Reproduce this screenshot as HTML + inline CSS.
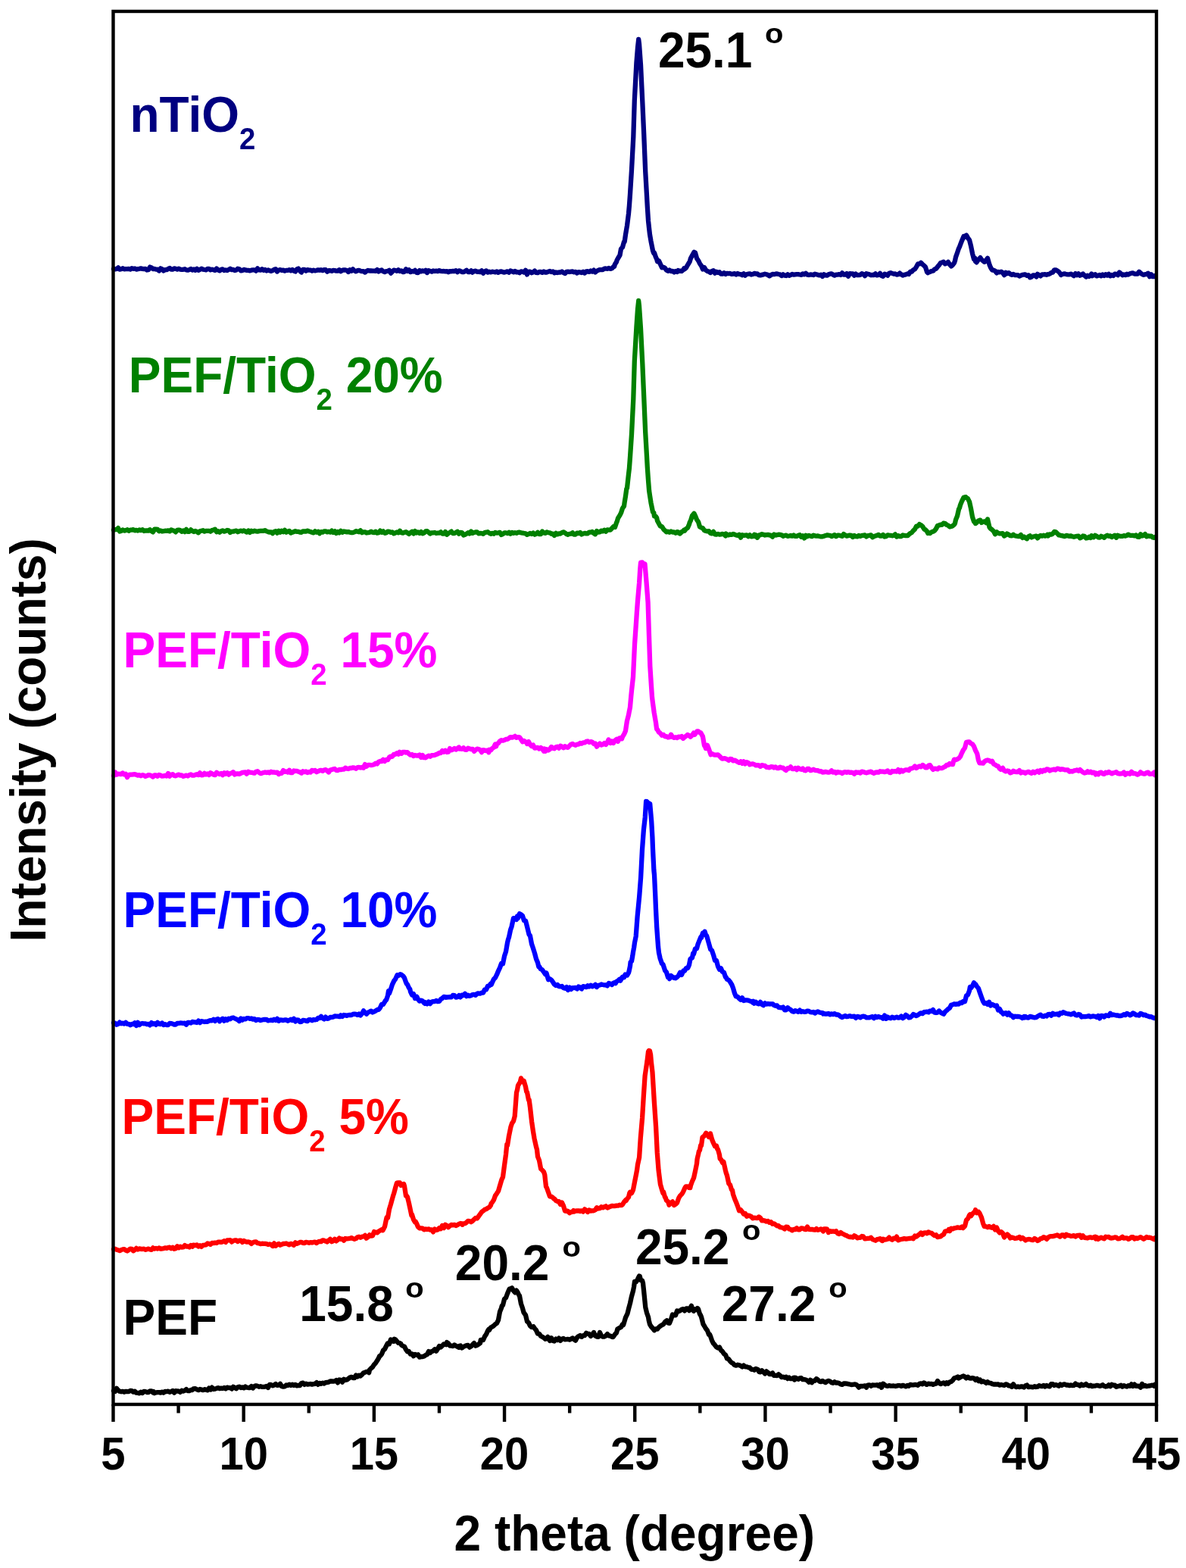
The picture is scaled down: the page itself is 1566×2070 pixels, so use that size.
<!DOCTYPE html>
<html><head><meta charset="utf-8"><title>XRD patterns</title>
<style>html,body{margin:0;padding:0;background:#fff;width:1566px;height:2070px;overflow:hidden}svg{display:block}</style>
</head><body>
<svg width="1566" height="2070" viewBox="0 0 1566 2070" font-family="'Liberation Sans', Arial, sans-serif" font-weight="bold">
<rect width="1566" height="2070" fill="#fff"/>
<polyline fill="none" stroke="#000080" stroke-width="6.3" stroke-linejoin="round" stroke-linecap="round" points="150.0,354.9 152.0,355.4 154.0,355.0 156.0,353.4 158.0,355.6 160.0,355.2 162.0,354.2 164.0,355.4 166.0,355.2 168.0,355.1 170.0,354.9 172.0,355.5 174.0,354.2 176.0,354.8 178.0,354.5 180.0,355.6 182.0,355.1 184.0,354.8 186.0,354.3 188.0,354.9 190.0,355.2 192.0,354.9 194.0,356.5 196.0,356.2 198.0,352.5 200.0,353.4 202.0,355.1 204.0,354.9 206.0,355.6 208.0,355.6 210.0,357.5 212.0,354.3 214.0,355.1 216.0,357.5 218.0,356.1 220.0,356.2 222.0,355.0 224.0,353.9 226.0,355.7 228.0,355.7 230.0,354.4 232.0,354.9 234.0,355.6 236.0,354.7 238.0,355.6 240.0,355.8 242.0,355.8 244.0,355.2 246.0,356.4 248.0,356.7 250.0,356.1 252.0,355.0 254.0,356.6 256.0,355.4 258.0,356.8 260.0,354.8 262.0,356.8 264.0,355.9 266.0,354.7 268.0,355.6 270.0,356.0 272.0,356.3 274.0,355.0 276.0,354.9 278.0,356.3 280.0,355.6 282.0,356.3 284.0,356.9 286.0,354.5 288.0,356.4 290.0,357.4 292.0,355.9 294.0,355.4 296.0,357.0 298.0,356.5 300.0,357.1 302.0,355.9 304.0,354.8 306.0,356.2 308.0,355.9 310.0,357.1 312.0,356.5 314.0,354.7 316.0,355.2 318.0,357.3 320.0,357.1 322.0,355.8 324.0,356.4 326.0,356.9 328.0,356.9 330.0,357.4 332.0,356.7 334.0,356.4 336.0,356.3 338.0,357.6 340.0,354.3 342.0,356.4 344.0,356.6 346.0,355.2 348.0,356.9 350.0,356.0 352.0,357.5 354.0,356.5 356.0,357.3 358.0,357.9 360.0,357.1 362.0,355.8 364.0,355.2 366.0,358.5 368.0,356.7 370.0,356.1 372.0,356.9 374.0,356.6 376.0,357.7 378.0,356.9 380.0,356.9 382.0,356.2 384.0,357.4 386.0,355.9 388.0,357.6 390.0,358.5 392.0,355.4 394.0,354.5 396.0,357.6 398.0,359.5 400.0,356.0 402.0,355.8 404.0,357.6 406.0,356.2 408.0,356.6 410.0,356.7 412.0,357.6 414.0,356.7 416.0,357.4 418.0,357.0 420.0,356.3 422.0,356.8 424.0,356.2 426.0,357.2 428.0,356.1 430.0,356.1 432.0,358.7 434.0,357.2 436.0,357.2 438.0,357.8 440.0,356.9 442.0,357.1 444.0,357.7 446.0,357.6 448.0,356.2 450.0,358.2 452.0,356.8 454.0,356.3 456.0,356.5 458.0,357.0 460.0,359.0 462.0,356.2 464.0,357.6 466.0,355.3 468.0,357.5 470.0,358.4 472.0,357.2 474.0,356.9 476.0,357.7 478.0,358.2 480.0,358.2 482.0,359.5 484.0,357.8 486.0,357.0 488.0,357.5 490.0,357.5 492.0,357.7 494.0,357.6 496.0,357.8 498.0,356.0 500.0,358.5 502.0,357.1 504.0,356.5 506.0,358.3 508.0,359.0 510.0,358.2 512.0,357.9 514.0,356.8 516.0,360.6 518.0,358.7 520.0,356.6 522.0,357.0 524.0,357.9 526.0,356.3 528.0,358.0 530.0,357.4 532.0,359.1 534.0,358.8 536.0,355.2 538.0,358.0 540.0,356.3 542.0,359.1 544.0,358.1 546.0,358.5 548.0,356.9 550.0,359.8 552.0,360.0 554.0,357.0 556.0,358.4 558.0,357.4 560.0,358.1 562.0,356.8 564.0,360.0 566.0,357.2 568.0,357.9 570.0,358.7 572.0,357.5 574.0,358.0 576.0,357.7 578.0,358.1 580.0,357.1 582.0,357.9 584.0,358.1 586.0,358.0 588.0,358.4 590.0,358.1 592.0,359.2 594.0,358.1 596.0,358.3 598.0,357.8 600.0,358.0 602.0,357.3 604.0,359.1 606.0,357.4 608.0,357.9 610.0,359.0 612.0,359.0 614.0,358.3 616.0,356.7 618.0,359.1 620.0,359.0 622.0,357.3 624.0,359.6 626.0,358.1 628.0,357.7 630.0,358.9 632.0,358.7 634.0,359.1 636.0,357.3 638.0,360.7 640.0,358.3 642.0,357.4 644.0,359.6 646.0,358.7 648.0,359.4 650.0,358.7 652.0,359.0 654.0,359.3 656.0,358.4 658.0,359.8 660.0,358.7 662.0,358.3 664.0,359.2 666.0,359.6 668.0,359.0 670.0,358.3 672.0,359.8 674.0,357.5 676.0,358.2 678.0,359.3 680.0,357.9 682.0,359.3 684.0,359.2 686.0,360.2 688.0,358.4 690.0,358.7 692.0,359.6 694.0,356.8 696.0,362.4 698.0,358.6 700.0,358.6 702.0,360.2 704.0,359.3 706.0,357.5 708.0,359.9 710.0,360.2 712.0,358.8 714.0,359.0 716.0,359.8 718.0,358.4 720.0,359.7 722.0,359.5 724.0,358.6 726.0,357.9 728.0,359.0 730.0,358.4 732.0,360.3 734.0,359.4 736.0,360.0 738.0,359.4 740.0,359.5 742.0,358.4 744.0,359.9 746.0,361.0 748.0,358.9 750.0,358.6 752.0,359.0 754.0,358.7 756.0,358.5 758.0,359.3 760.0,358.8 762.0,360.6 764.0,359.1 766.0,359.4 768.0,360.0 770.0,358.8 772.0,360.5 774.0,358.4 776.0,358.2 776.6,358.6 778.0,358.9 780.0,357.4 782.0,358.6 784.0,356.7 786.0,359.5 788.0,357.7 790.0,356.7 792.0,356.1 794.0,356.2 795.8,356.0 798.0,354.7 800.0,354.5 802.0,354.8 804.0,354.0 806.0,354.9 808.0,354.3 810.0,352.1 811.1,351.9 812.0,348.7 814.0,345.7 814.6,343.5 816.0,341.0 818.5,336.9 820.0,328.5 822.0,326.3 824.0,319.2 824.7,319.0 826.0,309.7 827.3,302.0 828.0,298.0 830.0,281.9 830.9,271.9 832.0,256.4 834.0,224.4 836.3,180.9 837.8,132.7 840.4,83.0 842.0,62.9 843.2,52.0 844.0,58.1 846.0,85.7 848.3,134.4 850.2,177.0 852.2,226.4 854.0,258.1 854.8,272.9 856.0,291.3 857.1,301.7 858.0,309.5 859.5,318.3 862.0,330.9 863.3,334.4 864.0,333.9 866.0,339.7 867.2,342.1 868.0,345.2 870.0,344.4 871.8,348.4 874.0,353.3 876.5,352.9 878.0,353.9 880.0,356.6 882.0,357.8 883.9,356.5 886.0,358.0 888.0,357.8 890.0,359.4 892.0,358.0 894.0,359.1 895.4,357.2 896.0,357.9 898.0,357.6 900.0,358.0 902.0,356.4 903.1,354.4 904.0,355.3 906.0,353.4 908.0,349.8 910.0,346.5 910.7,345.5 912.0,340.9 914.0,337.2 916.5,332.8 918.0,333.5 920.0,340.9 922.2,344.2 924.0,348.0 926.0,350.8 928.0,355.4 930.0,353.1 932.0,356.6 934.0,358.1 936.0,358.5 938.0,360.0 939.5,358.1 942.0,357.2 944.0,360.6 946.0,358.8 948.0,359.9 950.0,359.3 952.0,361.7 954.0,361.6 956.0,360.2 958.0,361.9 958.6,361.1 960.0,360.9 962.0,361.2 964.0,361.0 966.0,361.9 968.0,361.7 970.0,361.1 972.0,362.5 974.0,361.0 976.0,361.9 978.0,362.1 980.0,363.2 982.0,361.3 984.0,363.6 986.0,362.0 988.0,361.7 990.0,361.3 992.0,362.5 994.0,362.0 996.0,360.9 996.9,360.9 998.0,361.5 1000.0,361.3 1002.0,363.1 1004.0,363.4 1006.0,362.9 1008.0,362.4 1010.0,361.7 1012.0,362.2 1014.0,363.0 1016.0,364.3 1018.0,363.0 1020.0,361.9 1022.0,362.2 1024.0,361.7 1026.0,361.4 1028.0,362.0 1030.0,362.4 1032.0,364.0 1034.0,362.3 1036.0,363.6 1038.0,364.0 1040.0,362.3 1042.0,363.9 1044.0,363.0 1046.0,361.9 1048.0,362.6 1050.0,362.3 1052.0,362.1 1054.0,362.1 1056.0,362.5 1058.0,362.8 1060.0,361.4 1062.0,362.3 1064.0,360.8 1066.0,362.6 1068.0,363.0 1070.0,362.5 1072.0,362.7 1074.0,363.0 1076.0,361.7 1078.0,362.2 1080.0,362.9 1082.0,363.4 1084.0,362.8 1086.0,365.0 1088.0,362.3 1090.0,363.4 1092.0,363.7 1094.0,362.3 1096.0,361.6 1098.0,361.3 1100.0,362.6 1102.0,363.6 1104.0,362.7 1106.0,362.6 1108.0,362.1 1110.0,363.0 1112.0,360.3 1114.0,362.7 1116.0,362.5 1118.0,361.1 1120.0,364.7 1122.0,361.1 1124.0,361.4 1126.0,361.3 1128.0,363.6 1130.0,361.6 1132.0,363.2 1134.0,363.1 1136.0,362.8 1138.0,361.2 1140.0,361.9 1142.0,364.2 1144.0,361.2 1146.0,361.7 1148.0,362.3 1150.0,363.3 1152.0,362.8 1154.0,363.2 1156.0,361.4 1158.0,363.4 1160.0,363.0 1162.0,360.9 1164.0,364.0 1166.0,364.7 1168.0,361.6 1170.0,362.4 1172.0,363.7 1174.0,360.8 1176.0,360.2 1178.0,360.9 1180.0,361.6 1182.0,361.5 1184.0,362.6 1186.0,362.2 1188.0,360.6 1190.0,362.3 1192.0,363.5 1194.0,362.8 1196.0,362.4 1198.5,361.3 1200.0,361.9 1202.0,358.6 1204.0,358.7 1205.8,356.3 1208.0,355.4 1210.0,352.3 1212.0,348.4 1214.0,348.3 1215.0,348.0 1216.0,346.9 1218.0,348.8 1220.4,350.8 1222.0,352.6 1224.0,359.0 1225.2,360.2 1226.0,359.7 1228.0,358.8 1230.0,358.0 1232.5,357.4 1234.0,355.4 1236.0,354.7 1238.0,352.2 1239.8,350.2 1242.0,347.0 1244.0,346.5 1245.8,345.8 1248.0,348.4 1250.0,347.5 1251.9,345.9 1254.0,349.2 1256.0,351.4 1257.5,350.3 1260.0,347.1 1261.0,344.0 1262.0,339.4 1264.0,333.8 1266.0,327.8 1267.0,325.8 1268.0,323.2 1270.0,317.9 1272.5,312.0 1274.0,312.9 1275.3,310.9 1276.0,310.5 1278.0,314.1 1280.0,316.8 1282.0,324.6 1284.0,334.7 1286.0,342.1 1287.0,340.5 1288.0,345.1 1289.5,346.3 1292.0,342.6 1294.4,340.2 1296.0,342.7 1298.0,344.4 1300.0,345.8 1302.0,343.7 1304.0,340.8 1306.5,349.5 1308.0,353.1 1310.0,356.5 1312.0,356.6 1314.0,357.8 1316.0,360.3 1317.4,358.9 1320.0,359.3 1322.0,358.7 1324.0,360.0 1326.0,363.1 1328.0,359.7 1329.6,361.3 1332.0,360.1 1334.0,361.9 1336.0,362.8 1338.0,361.9 1340.0,363.0 1342.0,363.2 1344.0,363.1 1346.0,364.5 1348.0,363.7 1350.0,362.8 1352.0,362.5 1354.0,362.5 1356.0,363.9 1358.0,363.2 1360.0,366.3 1362.0,365.5 1364.0,363.4 1366.0,363.4 1368.4,365.4 1370.0,361.8 1372.0,363.1 1374.0,364.4 1376.0,362.3 1378.0,362.4 1380.0,362.2 1382.0,362.9 1383.0,362.1 1384.0,362.2 1386.0,361.6 1388.0,360.0 1390.0,359.6 1392.2,356.4 1394.0,356.3 1396.5,357.7 1398.0,358.8 1400.0,361.2 1401.0,363.0 1402.0,362.3 1404.0,361.7 1406.0,361.4 1408.0,362.1 1410.0,362.4 1412.0,362.3 1414.0,361.6 1416.0,362.7 1418.0,364.2 1420.0,361.1 1422.0,363.2 1424.0,361.3 1426.0,363.7 1428.0,362.8 1430.0,361.5 1432.0,363.7 1434.0,365.5 1436.0,363.8 1438.0,364.9 1440.0,363.6 1441.2,361.5 1442.0,364.2 1444.0,363.3 1446.0,362.2 1448.0,364.4 1450.0,363.8 1452.0,363.0 1454.0,364.3 1456.0,362.4 1458.0,363.9 1460.0,362.2 1462.0,363.6 1464.0,361.8 1466.0,364.3 1468.0,363.0 1470.0,364.1 1472.0,361.7 1474.0,361.9 1476.0,363.2 1478.0,359.5 1480.0,361.1 1482.0,363.2 1484.0,362.5 1486.0,363.0 1488.0,361.7 1489.7,362.6 1492.0,361.3 1494.0,360.6 1496.0,360.4 1498.0,361.6 1500.0,361.6 1502.0,361.6 1504.0,358.7 1506.0,360.4 1508.0,362.0 1510.0,362.9 1512.0,362.2 1514.0,362.0 1516.0,360.7 1518.0,365.2 1520.0,362.2 1522.0,365.1 1524.0,365.2 1525.0,364.0"/>
<polyline fill="none" stroke="#008000" stroke-width="6.3" stroke-linejoin="round" stroke-linecap="round" points="150.0,699.8 152.0,699.1 154.0,699.2 156.0,697.2 158.0,701.5 160.0,700.9 162.0,699.4 164.0,700.6 166.0,700.1 168.0,699.3 170.0,700.9 172.0,699.6 174.0,699.6 176.0,699.2 178.0,700.4 180.0,699.9 182.0,700.6 184.0,699.5 186.0,700.2 188.0,699.2 190.0,701.0 192.0,700.4 194.0,700.5 196.0,700.6 198.0,699.2 200.0,701.1 202.0,702.4 204.0,698.7 206.0,698.6 208.0,698.9 210.0,701.2 212.0,700.5 214.0,701.5 216.0,701.2 218.0,700.7 220.0,700.8 222.0,700.4 224.0,701.4 226.0,699.4 228.0,700.2 230.0,700.8 232.0,702.4 234.0,699.9 236.0,699.6 238.0,700.1 240.0,701.7 242.0,700.5 244.0,702.1 246.0,698.9 248.0,701.9 250.0,701.8 252.0,699.4 254.0,701.0 256.0,702.1 258.0,701.0 260.0,701.9 262.0,703.3 264.0,701.2 266.0,700.7 268.0,700.2 270.0,701.6 272.0,700.8 274.0,700.8 276.0,700.9 278.0,701.7 280.0,700.0 282.0,699.6 284.0,698.7 286.0,702.3 288.0,701.2 290.0,702.7 292.0,701.2 294.0,700.4 296.0,701.7 298.0,701.1 300.0,700.0 302.0,700.4 304.0,703.0 306.0,701.6 308.0,701.7 310.0,701.0 312.0,700.6 314.0,702.2 316.0,701.3 318.0,700.6 320.0,701.3 322.0,700.5 324.0,701.6 326.0,702.6 328.0,700.6 330.0,702.9 332.0,700.8 334.0,701.7 336.0,700.7 338.0,701.3 340.0,701.6 342.0,701.1 344.0,700.9 346.0,700.9 348.0,700.8 350.0,700.1 352.0,701.4 354.0,702.1 356.0,702.6 358.0,702.3 360.0,704.2 362.0,702.0 364.0,701.3 366.0,703.6 368.0,700.7 370.0,702.7 372.0,700.8 374.0,702.2 376.0,699.9 378.0,702.7 380.0,701.7 382.0,700.9 384.0,703.6 386.0,702.7 388.0,702.0 390.0,701.2 392.0,701.9 394.0,701.8 396.0,702.7 398.0,702.8 400.0,701.3 402.0,701.5 404.0,701.5 406.0,700.7 408.0,701.5 410.0,702.0 412.0,702.8 414.0,703.4 416.0,701.3 418.0,702.7 420.0,701.7 422.0,704.2 424.0,702.1 426.0,702.7 428.0,701.3 430.0,701.4 432.0,702.4 434.0,701.9 436.0,702.6 438.0,700.7 440.0,702.9 442.0,701.4 444.0,704.0 446.0,702.0 448.0,703.4 450.0,700.9 452.0,702.8 454.0,701.5 456.0,701.9 458.0,702.4 460.0,702.1 462.0,702.7 464.0,703.2 466.0,703.1 468.0,702.4 470.0,701.1 472.0,701.7 474.0,702.3 476.0,700.4 478.0,703.3 480.0,702.3 482.0,702.3 484.0,703.5 486.0,703.2 488.0,702.8 490.0,701.6 492.0,702.9 494.0,703.0 496.0,701.7 498.0,703.7 500.0,703.2 502.0,700.7 504.0,702.8 506.0,701.4 508.0,703.8 510.0,703.5 512.0,701.6 514.0,701.9 516.0,702.9 518.0,702.5 520.0,704.3 522.0,703.5 524.0,702.5 526.0,703.4 528.0,700.8 530.0,703.2 532.0,703.7 534.0,702.7 536.0,702.2 538.0,703.5 540.0,704.9 542.0,703.1 544.0,701.8 546.0,704.4 548.0,701.1 550.0,703.5 552.0,702.4 554.0,704.0 556.0,702.2 558.0,704.4 560.0,703.4 562.0,701.4 564.0,701.1 566.0,702.8 568.0,704.5 570.0,703.3 572.0,703.3 574.0,703.0 576.0,704.0 578.0,703.6 580.0,703.6 582.0,702.3 584.0,704.5 586.0,704.7 588.0,702.1 590.0,705.7 592.0,704.1 594.0,702.9 596.0,701.6 598.0,704.1 600.0,704.1 602.0,702.9 604.0,701.8 606.0,704.7 608.0,703.0 610.0,703.1 612.0,706.5 614.0,705.8 616.0,704.6 618.0,703.3 620.0,704.4 622.0,701.5 624.0,703.9 626.0,703.0 628.0,702.5 630.0,702.3 632.0,704.4 634.0,704.0 636.0,704.1 638.0,704.8 640.0,703.1 642.0,702.7 644.0,702.2 646.0,703.7 648.0,704.8 650.0,703.9 652.0,704.7 654.0,702.9 656.0,703.6 658.0,703.3 660.0,702.9 662.0,706.0 664.0,705.0 666.0,703.4 668.0,703.4 670.0,704.1 672.0,702.8 674.0,704.7 676.0,702.9 678.0,703.9 680.0,703.2 682.0,703.8 684.0,702.9 686.0,702.7 688.0,703.3 690.0,703.6 692.0,704.0 694.0,704.4 696.0,705.8 698.0,705.1 700.0,704.0 702.0,705.0 704.0,703.6 706.0,705.7 708.0,704.8 710.0,702.9 712.0,705.1 714.0,705.1 716.0,701.6 718.0,703.5 720.0,703.8 722.0,702.4 724.0,703.2 726.0,703.3 728.0,704.8 730.0,704.6 732.0,706.9 734.0,703.9 736.0,705.4 738.0,704.3 740.0,704.5 742.0,703.1 744.0,702.3 746.0,703.4 748.0,705.0 750.0,705.8 752.0,704.8 754.0,704.7 756.0,703.3 758.0,705.7 760.0,705.5 762.0,703.6 764.0,704.1 766.0,703.1 768.0,705.5 770.0,704.5 772.0,703.9 774.0,704.4 776.0,704.4 776.6,703.6 778.0,702.7 780.0,702.6 782.0,701.9 784.0,703.9 786.0,705.3 788.0,701.0 790.0,702.5 792.0,702.4 794.0,700.6 795.8,701.4 798.0,699.7 800.0,701.6 802.0,699.4 804.0,699.6 806.0,699.6 808.0,697.6 810.0,695.2 811.1,695.8 812.0,696.0 814.0,689.9 814.6,688.8 816.0,684.2 818.5,680.2 820.0,677.2 822.0,671.0 824.0,668.1 824.7,662.9 826.0,655.1 827.3,645.4 828.0,644.3 830.0,625.9 830.9,618.4 832.0,603.5 834.0,573.3 836.3,526.6 837.8,476.9 840.4,431.9 842.0,408.4 843.2,397.0 844.0,404.2 846.0,433.8 848.3,479.7 850.2,523.7 852.2,570.9 854.0,602.1 854.8,616.9 856.0,634.0 857.1,647.8 858.0,653.9 859.5,663.6 862.0,675.9 863.3,677.0 864.0,681.4 866.0,681.9 867.2,683.8 868.0,687.6 870.0,691.3 871.8,694.5 874.0,695.2 876.5,699.2 878.0,700.3 880.0,702.4 882.0,701.7 883.9,702.7 886.0,701.5 888.0,702.5 890.0,702.4 892.0,703.7 894.0,702.1 895.4,702.3 896.0,703.7 898.0,704.5 900.0,702.3 902.0,701.1 903.1,699.8 904.0,700.7 906.0,698.1 908.0,696.8 910.0,692.2 910.7,689.6 912.0,687.1 914.0,680.8 916.5,677.8 918.0,681.0 920.0,686.0 922.2,689.3 924.0,695.5 926.0,696.6 928.0,697.3 930.0,700.2 932.0,701.0 934.0,701.4 936.0,701.1 938.0,703.8 939.5,704.4 942.0,701.9 944.0,705.3 946.0,705.7 948.0,704.8 950.0,705.6 952.0,705.3 954.0,704.9 956.0,705.5 958.0,707.3 958.6,704.5 960.0,706.3 962.0,706.3 964.0,705.5 966.0,705.9 968.0,705.0 970.0,705.6 972.0,706.5 974.0,706.9 976.0,705.7 978.0,709.7 980.0,706.2 982.0,706.9 984.0,706.6 986.0,706.5 988.0,708.2 990.0,706.4 992.0,708.3 994.0,708.1 996.0,705.9 996.9,708.0 998.0,706.4 1000.0,709.8 1002.0,706.6 1004.0,706.1 1006.0,705.1 1008.0,705.8 1010.0,706.5 1012.0,706.1 1014.0,705.9 1016.0,706.4 1018.0,706.9 1020.0,708.6 1022.0,705.5 1024.0,706.6 1026.0,706.2 1028.0,705.7 1030.0,705.9 1032.0,706.3 1034.0,707.9 1036.0,707.0 1038.0,706.7 1040.0,707.9 1042.0,707.5 1044.0,707.0 1046.0,707.7 1048.0,706.5 1050.0,707.9 1052.0,707.8 1054.0,706.9 1056.0,706.1 1058.0,708.8 1060.0,707.4 1062.0,710.4 1064.0,706.7 1066.0,708.2 1068.0,706.9 1070.0,707.6 1072.0,708.2 1074.0,706.6 1076.0,707.3 1078.0,707.6 1080.0,707.5 1082.0,708.0 1084.0,708.4 1086.0,708.3 1088.0,707.7 1090.0,707.1 1092.0,706.3 1094.0,706.7 1096.0,706.9 1098.0,708.1 1100.0,707.1 1102.0,706.2 1104.0,708.1 1106.0,706.7 1108.0,706.7 1110.0,707.2 1112.0,707.9 1114.0,705.1 1116.0,706.4 1118.0,707.7 1120.0,707.1 1122.0,706.6 1124.0,706.9 1126.0,708.9 1128.0,707.0 1130.0,708.2 1132.0,708.3 1134.0,707.0 1136.0,707.9 1138.0,707.0 1140.0,706.9 1142.0,706.4 1144.0,708.4 1146.0,707.1 1148.0,706.9 1150.0,706.4 1152.0,709.3 1154.0,708.2 1156.0,707.4 1158.0,706.8 1160.0,705.9 1162.0,707.7 1164.0,707.7 1166.0,706.0 1168.0,708.5 1170.0,708.1 1172.0,706.4 1174.0,706.7 1176.0,706.8 1178.0,707.3 1180.0,707.0 1182.0,705.4 1184.0,708.5 1186.0,707.2 1188.0,708.1 1190.0,708.0 1192.0,706.5 1194.0,706.9 1196.0,707.2 1198.5,707.1 1200.0,705.7 1202.0,704.0 1204.0,702.9 1205.8,700.6 1208.0,698.6 1210.0,694.6 1212.0,694.7 1214.0,692.1 1215.0,693.0 1216.0,693.1 1218.0,694.8 1220.4,698.6 1222.0,699.4 1224.0,701.5 1225.2,704.0 1226.0,703.3 1228.0,704.0 1230.0,702.4 1232.5,701.5 1234.0,700.6 1236.0,698.0 1238.0,694.0 1239.8,693.5 1242.0,692.6 1244.0,692.8 1245.8,690.7 1248.0,691.0 1250.0,692.9 1251.9,693.6 1254.0,695.5 1256.0,695.0 1257.5,694.5 1260.0,692.6 1261.0,690.7 1262.0,686.1 1264.0,681.2 1266.0,672.2 1267.0,670.5 1268.0,666.6 1270.0,661.7 1272.5,656.8 1274.0,656.4 1275.3,656.2 1276.0,657.1 1278.0,658.3 1280.0,662.3 1282.0,671.4 1284.0,682.5 1286.0,688.6 1287.0,688.5 1288.0,691.1 1289.5,690.0 1292.0,687.4 1294.4,686.6 1296.0,689.9 1298.0,688.8 1300.0,688.4 1302.0,690.1 1304.0,685.4 1306.5,696.1 1308.0,697.9 1310.0,699.3 1312.0,701.4 1314.0,705.2 1316.0,702.2 1317.4,703.6 1320.0,704.4 1322.0,704.4 1324.0,704.2 1326.0,707.5 1328.0,706.3 1329.6,704.5 1332.0,705.8 1334.0,707.2 1336.0,707.3 1338.0,705.7 1340.0,707.2 1342.0,707.7 1344.0,708.0 1346.0,708.2 1348.0,706.1 1350.0,709.9 1352.0,708.4 1354.0,710.1 1356.0,711.3 1358.0,708.3 1360.0,707.3 1362.0,709.5 1364.0,708.5 1366.0,708.2 1368.4,707.7 1370.0,710.4 1372.0,708.1 1374.0,707.0 1376.0,707.7 1378.0,706.7 1380.0,707.7 1382.0,706.8 1383.0,705.9 1384.0,707.4 1386.0,705.3 1388.0,705.7 1390.0,704.7 1392.2,701.8 1394.0,702.2 1396.5,704.7 1398.0,706.4 1400.0,706.7 1401.0,707.1 1402.0,707.1 1404.0,707.6 1406.0,708.1 1408.0,706.9 1410.0,707.3 1412.0,707.9 1414.0,707.4 1416.0,708.3 1418.0,708.8 1420.0,708.3 1422.0,707.8 1424.0,707.7 1426.0,710.3 1428.0,709.4 1430.0,707.5 1432.0,707.8 1434.0,710.5 1436.0,710.2 1438.0,708.8 1440.0,709.9 1441.2,707.2 1442.0,708.7 1444.0,709.4 1446.0,706.8 1448.0,707.8 1450.0,709.3 1452.0,709.6 1454.0,707.8 1456.0,708.6 1458.0,709.8 1460.0,707.7 1462.0,706.7 1464.0,707.9 1466.0,707.4 1468.0,709.0 1470.0,707.8 1472.0,706.7 1474.0,709.8 1476.0,706.8 1478.0,707.7 1480.0,707.9 1482.0,707.9 1484.0,707.2 1486.0,707.6 1488.0,706.9 1489.7,705.6 1492.0,706.8 1494.0,706.8 1496.0,706.9 1498.0,707.3 1500.0,706.5 1502.0,708.6 1504.0,708.9 1506.0,705.2 1508.0,707.5 1510.0,706.9 1512.0,705.1 1514.0,708.3 1516.0,707.4 1518.0,707.8 1520.0,707.6 1522.0,709.5 1524.0,709.9 1525.0,709.0"/>
<polyline fill="none" stroke="#FF00FF" stroke-width="6.3" stroke-linejoin="round" stroke-linecap="round" points="150.0,1024.0 152.0,1019.5 154.0,1022.6 156.0,1021.7 158.0,1021.9 160.0,1022.2 162.0,1020.5 164.0,1022.4 166.0,1021.8 168.0,1026.1 170.0,1023.1 172.0,1022.6 174.0,1022.7 176.0,1022.4 178.0,1022.1 180.0,1022.8 182.0,1023.7 184.0,1023.1 186.0,1024.3 188.0,1023.2 190.0,1023.5 192.0,1025.0 194.0,1024.1 196.0,1023.1 198.0,1023.4 200.0,1024.2 202.0,1025.6 204.0,1023.4 206.0,1023.5 208.0,1024.7 210.0,1022.9 212.0,1023.5 214.0,1024.7 216.0,1024.4 218.0,1023.9 220.0,1024.5 222.0,1021.0 224.0,1024.8 226.0,1022.8 228.0,1022.1 230.0,1024.0 232.0,1024.4 234.0,1023.2 236.0,1022.6 238.0,1023.6 240.0,1023.5 242.0,1024.9 244.0,1024.2 246.0,1023.6 248.0,1024.5 250.0,1023.1 252.0,1022.3 254.0,1023.7 256.0,1023.7 258.0,1022.8 260.0,1022.2 262.0,1023.1 264.0,1020.3 266.0,1023.4 268.0,1023.1 270.0,1020.9 272.0,1022.5 274.0,1021.4 276.0,1023.0 278.0,1020.2 280.0,1021.2 282.0,1022.7 284.0,1023.1 286.0,1019.7 288.0,1021.2 290.0,1022.0 292.0,1021.0 294.0,1023.1 296.0,1020.2 298.0,1021.7 300.0,1020.2 302.0,1022.6 304.0,1021.0 306.0,1020.6 308.0,1019.2 310.0,1022.5 312.0,1021.5 314.0,1021.4 316.0,1021.8 318.0,1020.9 320.0,1019.8 322.0,1019.6 324.0,1019.5 325.6,1021.7 328.0,1018.8 330.0,1019.6 332.0,1019.8 334.0,1020.3 336.0,1020.6 338.0,1018.7 340.0,1018.2 342.0,1019.9 344.0,1021.1 346.0,1020.6 348.0,1020.0 350.0,1019.4 352.0,1020.0 354.0,1019.4 356.0,1020.4 358.0,1018.8 360.0,1019.7 362.0,1019.4 364.0,1020.0 366.0,1019.6 368.0,1022.0 370.0,1020.8 372.0,1020.8 374.0,1017.1 376.0,1018.8 378.0,1018.5 380.0,1019.6 382.0,1016.7 384.0,1020.2 386.0,1020.0 388.0,1017.5 390.0,1017.8 392.0,1017.9 394.0,1018.7 395.9,1019.3 398.0,1020.6 400.0,1018.3 402.0,1019.2 404.0,1018.5 406.0,1020.0 408.0,1018.9 410.0,1019.5 412.0,1016.9 414.0,1017.7 416.0,1017.0 418.0,1019.3 420.0,1018.3 422.0,1017.2 424.0,1017.0 426.0,1017.8 428.0,1016.5 430.0,1016.2 432.0,1017.5 434.0,1019.5 436.0,1016.5 438.0,1016.1 440.0,1015.3 442.0,1015.0 444.0,1016.8 446.0,1017.0 448.0,1015.9 450.0,1016.1 452.0,1015.7 454.0,1015.6 456.0,1013.7 458.0,1014.6 460.0,1015.0 462.0,1013.9 464.0,1014.0 466.1,1013.4 468.0,1013.7 470.0,1014.7 472.0,1013.1 474.0,1013.0 476.0,1013.6 478.0,1013.0 480.0,1013.7 482.0,1009.1 484.0,1011.8 486.0,1009.8 488.0,1009.9 490.0,1010.1 492.0,1009.8 494.2,1009.2 496.0,1007.6 498.0,1008.5 500.0,1005.7 502.0,1005.0 504.0,1005.2 506.0,1002.8 508.0,1005.0 510.0,1002.8 512.0,1003.2 514.0,999.7 515.3,998.8 516.0,999.1 518.0,998.6 520.0,995.8 522.0,995.8 524.0,994.3 526.0,995.6 527.6,992.7 530.0,994.8 532.0,993.0 534.0,992.8 536.0,993.5 538.0,993.2 540.0,995.2 542.0,996.7 544.0,996.0 545.0,996.7 546.0,998.1 548.0,997.0 550.0,997.5 552.0,997.6 554.0,996.5 556.0,999.8 558.0,997.1 559.2,1000.0 560.0,999.2 562.0,1000.4 564.0,998.8 566.0,997.6 568.0,998.7 570.0,997.2 572.0,997.1 574.0,996.8 576.0,996.0 578.0,995.3 580.0,993.9 582.0,994.0 584.0,991.0 586.0,992.7 588.0,990.8 590.0,993.0 592.0,992.6 594.0,988.1 596.0,990.2 598.0,989.5 600.0,988.0 602.0,989.6 604.0,988.2 606.0,986.5 606.6,988.7 608.0,988.5 610.0,988.9 612.0,987.3 614.0,989.6 616.0,989.9 618.0,987.7 620.0,988.4 622.0,989.2 624.0,988.8 626.0,991.8 628.0,990.0 630.0,988.6 632.0,989.0 634.0,990.1 636.0,993.1 638.0,990.1 640.0,990.6 642.0,991.1 644.0,990.4 645.3,993.3 646.0,989.8 648.0,990.4 650.0,988.0 652.0,986.6 654.0,982.5 655.1,985.4 656.0,982.3 658.0,981.1 660.0,978.4 662.0,977.2 664.0,977.7 666.0,977.1 668.0,976.0 670.0,975.9 672.0,974.6 674.0,973.1 676.0,973.7 678.0,973.0 680.0,971.9 680.7,973.0 682.0,973.9 684.0,973.1 686.0,973.4 688.0,976.2 690.0,979.3 692.0,977.9 694.0,979.4 695.0,979.8 696.0,982.1 698.0,979.1 700.0,983.0 702.0,985.1 704.0,983.6 706.0,987.6 708.0,987.3 710.0,986.8 712.0,988.5 714.0,986.9 716.0,988.5 718.0,991.7 719.0,988.4 720.0,991.8 722.0,989.3 724.0,990.5 726.0,989.1 728.0,986.0 730.0,987.7 732.0,988.3 734.0,986.3 736.0,985.7 738.0,987.6 739.4,986.1 740.0,984.7 742.0,985.6 744.0,987.2 746.0,985.2 748.0,986.5 750.0,986.8 752.0,984.5 754.0,982.6 756.0,981.9 758.0,983.1 760.0,983.8 762.0,982.6 764.0,982.6 766.0,981.0 768.0,981.7 770.0,980.4 772.0,980.4 774.0,978.9 776.0,978.5 777.7,979.9 780.0,979.2 782.0,979.6 784.0,982.0 786.0,981.4 788.0,985.6 790.0,983.4 792.0,981.6 794.0,983.5 796.0,982.8 798.0,981.1 800.0,982.9 802.0,979.9 803.5,976.5 806.0,980.9 808.0,978.6 810.0,980.9 812.0,977.5 814.3,975.9 816.0,978.8 818.0,974.3 820.0,974.6 821.1,975.3 822.0,972.6 824.0,969.3 825.2,966.8 826.0,964.8 827.9,952.0 830.0,943.9 830.6,940.5 832.0,933.6 833.3,918.7 834.0,911.8 836.0,893.6 838.0,850.9 840.0,821.9 840.7,811.3 842.0,793.2 844.1,769.3 845.2,751.8 846.0,742.7 848.2,742.5 850.0,746.6 851.5,744.6 853.6,769.2 855.6,795.2 857.0,839.4 858.3,879.1 860.0,905.7 861.0,920.4 862.0,928.4 863.7,940.8 866.0,954.0 867.1,962.4 868.0,963.1 870.0,966.7 871.1,967.3 872.0,968.2 874.0,970.7 876.0,969.9 878.0,972.3 880.0,972.1 882.0,973.5 884.0,973.1 884.7,972.0 886.0,969.7 888.0,973.0 890.0,973.9 892.0,973.3 894.0,974.0 896.0,972.7 898.2,972.9 900.0,972.1 902.0,974.9 904.0,973.0 906.0,971.7 908.0,970.0 910.0,971.0 911.7,972.7 914.0,970.5 916.0,967.7 917.1,970.0 918.0,968.9 920.5,965.4 922.0,965.4 924.0,967.1 925.2,967.3 926.0,968.8 928.0,972.4 930.0,984.3 930.7,984.6 932.0,988.1 934.0,983.9 936.0,988.9 938.5,996.2 940.0,994.9 942.0,996.1 944.0,996.6 945.5,996.7 948.0,996.4 950.0,998.1 952.3,1000.7 954.0,1001.7 956.5,1001.1 958.0,1001.5 960.0,1002.3 962.0,1003.8 964.0,1002.0 966.0,1002.2 968.0,1004.4 970.0,1003.6 972.0,1004.6 974.0,1005.9 976.0,1006.8 978.0,1005.4 980.0,1007.9 982.0,1005.4 984.0,1008.4 986.0,1006.3 988.0,1007.0 990.0,1009.4 992.0,1008.6 994.0,1008.4 996.0,1009.1 998.0,1010.4 1000.0,1010.1 1002.0,1010.4 1004.0,1011.8 1006.0,1010.1 1008.0,1010.6 1010.0,1010.8 1012.0,1012.9 1014.0,1012.9 1016.0,1013.4 1018.0,1012.2 1020.4,1012.3 1022.0,1013.6 1024.0,1012.5 1026.0,1014.0 1028.0,1014.0 1030.0,1012.7 1032.0,1013.6 1034.0,1013.7 1036.0,1015.8 1038.0,1016.9 1040.0,1014.2 1042.0,1014.5 1044.0,1012.3 1046.0,1015.0 1048.5,1015.0 1050.0,1014.0 1052.0,1016.1 1054.0,1013.8 1056.0,1015.3 1058.0,1015.8 1060.0,1014.5 1062.0,1016.9 1064.0,1017.3 1066.0,1014.9 1068.0,1015.0 1070.0,1017.2 1072.0,1016.7 1074.0,1015.7 1076.0,1016.8 1078.0,1017.1 1080.0,1017.2 1082.0,1018.4 1084.0,1018.1 1086.0,1019.6 1088.0,1019.4 1090.0,1018.8 1092.0,1019.3 1094.0,1019.7 1096.0,1019.2 1098.0,1017.3 1100.0,1019.6 1102.0,1018.9 1104.0,1020.6 1106.0,1019.1 1108.0,1019.7 1110.0,1019.6 1112.0,1021.0 1114.0,1019.6 1116.0,1019.2 1118.0,1019.8 1120.0,1019.1 1122.0,1019.8 1124.0,1019.7 1126.0,1020.0 1128.0,1021.7 1130.0,1019.4 1132.0,1019.8 1133.9,1019.6 1136.0,1020.5 1138.0,1018.6 1140.0,1019.1 1142.0,1019.7 1144.0,1020.3 1146.0,1019.6 1148.0,1019.1 1150.0,1018.7 1152.0,1020.0 1154.0,1020.9 1156.0,1019.7 1158.0,1019.5 1160.0,1019.7 1162.0,1018.2 1164.0,1018.7 1166.0,1018.7 1168.0,1019.1 1170.0,1018.7 1172.0,1017.4 1174.0,1019.6 1176.0,1020.1 1178.0,1017.9 1180.0,1018.5 1182.0,1018.2 1184.0,1018.6 1186.0,1016.1 1188.0,1019.1 1190.0,1016.8 1192.0,1018.4 1194.0,1017.0 1196.4,1016.3 1198.0,1016.3 1200.0,1017.0 1202.0,1014.6 1204.0,1014.4 1206.0,1013.6 1208.0,1011.5 1210.0,1014.0 1212.0,1012.6 1214.0,1011.5 1216.0,1012.4 1218.3,1010.0 1220.0,1011.1 1222.0,1013.4 1224.0,1013.3 1226.0,1010.6 1228.0,1010.2 1230.0,1013.3 1232.0,1016.0 1234.0,1014.6 1236.0,1014.8 1238.0,1015.4 1240.0,1013.4 1242.0,1014.1 1244.0,1014.0 1246.0,1012.9 1248.0,1012.0 1250.0,1009.9 1252.0,1010.1 1254.0,1008.0 1256.0,1008.9 1258.0,1009.2 1259.0,1004.9 1260.0,1002.6 1262.0,1003.1 1264.0,1002.3 1266.0,1001.1 1268.0,998.8 1270.0,994.1 1272.0,990.0 1274.0,987.3 1276.0,979.8 1277.8,979.5 1280.0,979.5 1282.0,981.5 1284.0,982.4 1286.0,985.3 1288.0,990.5 1290.3,995.1 1292.0,1003.9 1293.4,1007.3 1296.0,1007.3 1298.0,1007.7 1300.0,1005.2 1302.0,1004.0 1304.0,1003.4 1306.0,1004.0 1308.0,1005.3 1310.0,1004.7 1312.0,1008.6 1314.0,1009.5 1316.0,1011.0 1318.0,1011.6 1320.0,1014.7 1321.6,1015.8 1324.0,1013.9 1326.0,1017.5 1328.0,1018.4 1330.0,1017.5 1332.0,1018.1 1334.0,1020.4 1336.0,1019.6 1338.0,1017.7 1340.0,1018.9 1342.0,1019.0 1344.0,1019.2 1346.0,1017.1 1348.0,1020.4 1350.0,1019.1 1352.0,1020.0 1352.9,1019.7 1354.0,1020.7 1356.0,1019.4 1358.0,1018.8 1360.0,1020.0 1362.0,1020.7 1364.0,1018.8 1366.0,1020.3 1368.0,1018.9 1370.0,1017.8 1372.0,1019.6 1374.0,1017.0 1376.0,1018.6 1378.0,1016.7 1380.0,1017.5 1382.0,1015.5 1384.0,1015.7 1386.0,1017.5 1388.0,1016.4 1390.0,1016.1 1392.0,1015.6 1393.6,1016.5 1396.0,1014.6 1398.0,1014.9 1400.0,1016.0 1402.0,1015.3 1404.0,1015.6 1406.0,1016.4 1408.0,1016.4 1410.0,1016.5 1412.0,1018.6 1414.0,1018.1 1416.0,1018.5 1418.0,1017.4 1420.0,1017.1 1422.0,1016.4 1424.0,1017.7 1426.0,1016.1 1428.0,1017.9 1430.0,1019.4 1432.0,1020.5 1434.0,1020.0 1436.0,1018.3 1438.0,1019.8 1440.0,1018.7 1442.0,1020.4 1444.0,1019.6 1446.0,1020.6 1446.8,1022.4 1448.0,1020.8 1450.0,1022.3 1452.0,1020.1 1454.0,1019.7 1456.0,1021.4 1458.0,1021.9 1460.0,1019.7 1462.0,1020.4 1464.0,1018.9 1466.0,1020.2 1468.0,1021.4 1470.0,1020.4 1472.0,1020.0 1474.0,1019.2 1476.0,1021.1 1478.0,1021.5 1480.0,1021.4 1482.0,1021.1 1484.0,1019.6 1486.0,1022.7 1488.0,1020.9 1490.0,1020.9 1492.0,1021.8 1494.0,1018.9 1496.0,1021.1 1498.0,1021.0 1500.0,1021.6 1502.0,1022.6 1504.0,1021.7 1506.0,1019.4 1508.0,1021.0 1510.0,1021.5 1512.0,1021.5 1514.0,1020.1 1516.0,1019.7 1518.0,1021.9 1520.0,1021.7 1522.0,1021.4 1524.0,1019.7 1525.0,1023.2"/>
<polyline fill="none" stroke="#0000FF" stroke-width="6.3" stroke-linejoin="round" stroke-linecap="round" points="150.0,1350.2 152.0,1350.8 154.0,1352.7 156.0,1351.8 158.0,1349.6 160.0,1351.3 162.0,1350.7 164.0,1351.6 166.0,1349.9 168.0,1351.8 170.0,1351.8 172.0,1353.2 174.0,1352.0 176.0,1352.2 178.0,1350.3 180.0,1354.0 182.0,1349.9 184.0,1353.0 186.0,1351.5 188.0,1351.0 190.0,1351.3 192.0,1351.3 194.0,1352.3 196.0,1351.8 198.0,1353.4 200.0,1350.1 202.0,1352.0 204.0,1351.1 206.0,1352.8 208.0,1349.9 210.0,1351.7 212.0,1352.2 214.0,1350.5 216.0,1353.0 218.0,1352.2 220.2,1353.0 222.0,1353.0 224.0,1351.0 226.0,1351.1 228.0,1351.7 230.0,1352.5 232.0,1352.5 234.0,1350.9 236.0,1350.8 238.0,1350.5 240.0,1350.6 242.0,1350.8 244.0,1350.7 246.0,1352.7 248.0,1350.0 250.0,1350.0 252.0,1350.5 254.0,1348.9 256.0,1349.3 258.0,1349.4 260.0,1350.0 262.0,1347.7 264.0,1350.1 266.0,1348.2 268.0,1348.5 270.0,1349.0 272.0,1348.6 274.0,1348.8 276.0,1347.6 278.0,1347.2 280.0,1347.4 282.0,1345.8 284.0,1347.9 286.0,1345.7 288.0,1345.1 290.0,1348.3 292.0,1345.9 294.0,1344.7 296.0,1347.7 298.0,1345.4 300.0,1346.8 302.0,1344.7 304.0,1345.3 306.0,1343.8 308.0,1343.5 310.0,1344.5 312.0,1345.4 314.0,1346.3 316.0,1348.0 318.0,1344.5 320.0,1346.6 322.0,1345.0 324.0,1345.4 326.0,1344.1 328.0,1344.1 330.0,1344.9 332.0,1344.5 334.0,1345.7 336.0,1345.1 338.0,1347.1 340.0,1346.0 342.0,1346.1 344.0,1347.1 346.0,1346.5 348.0,1346.0 350.0,1346.0 352.0,1346.0 354.0,1347.3 356.0,1347.0 358.0,1346.6 360.0,1347.1 362.0,1345.7 364.0,1346.9 366.0,1344.9 368.0,1347.8 370.0,1346.5 372.0,1346.7 374.0,1347.1 376.0,1346.5 378.0,1346.3 380.0,1347.8 382.0,1346.7 384.0,1345.7 386.0,1347.1 388.0,1344.9 390.0,1348.4 392.0,1346.5 394.0,1346.7 395.9,1349.0 398.0,1348.9 400.0,1346.8 402.0,1347.2 404.0,1347.6 406.0,1348.1 408.0,1346.1 410.0,1346.2 412.0,1347.2 414.0,1346.0 416.0,1346.3 418.0,1346.0 420.0,1343.9 422.0,1344.0 424.0,1341.9 426.0,1344.1 428.0,1345.5 430.0,1342.7 432.0,1344.9 434.0,1344.4 436.0,1343.0 438.0,1342.8 440.0,1342.6 442.0,1341.3 444.0,1341.7 446.0,1341.7 448.0,1342.1 448.6,1342.2 450.0,1340.4 452.0,1341.9 454.0,1340.0 456.0,1340.4 458.0,1340.8 460.0,1340.1 462.0,1339.8 464.0,1340.0 466.0,1338.9 468.0,1338.6 470.0,1338.9 472.0,1339.9 474.0,1338.5 476.0,1340.4 478.0,1338.2 480.0,1334.4 482.0,1336.8 484.0,1338.7 486.0,1336.5 488.0,1335.6 490.0,1334.6 492.0,1336.5 494.2,1335.5 496.0,1334.5 498.0,1333.1 500.0,1332.8 502.0,1330.3 504.0,1325.9 506.0,1325.9 508.0,1322.6 509.0,1320.9 510.0,1320.2 512.0,1314.5 513.0,1308.3 514.0,1311.5 516.5,1304.4 518.0,1299.6 520.5,1294.5 522.0,1292.7 524.5,1287.2 526.0,1288.1 528.4,1286.2 530.0,1286.8 532.5,1288.7 534.0,1291.0 536.0,1296.7 537.0,1298.8 538.0,1299.8 540.0,1304.2 541.3,1305.9 542.0,1309.1 544.0,1313.4 546.0,1312.1 548.0,1317.9 550.4,1315.9 552.0,1319.3 554.0,1321.6 556.0,1320.7 558.0,1321.5 560.0,1324.1 561.0,1324.9 562.0,1323.3 564.0,1325.3 566.0,1322.5 568.0,1325.1 570.0,1322.6 572.0,1322.2 574.0,1322.0 576.0,1321.0 578.0,1322.2 580.0,1321.9 582.0,1319.2 584.0,1317.8 586.0,1316.0 588.0,1316.1 589.0,1316.8 590.0,1316.5 592.0,1316.3 594.0,1316.1 596.0,1316.4 598.0,1313.9 600.0,1314.1 602.0,1316.6 604.0,1316.1 606.0,1314.2 608.0,1316.3 610.0,1313.7 612.0,1314.1 614.0,1311.9 616.0,1315.1 618.0,1313.8 620.0,1314.9 622.0,1314.2 624.0,1313.1 626.0,1312.9 628.0,1313.8 630.0,1311.7 631.2,1311.4 632.0,1311.5 634.0,1311.6 636.0,1310.7 638.0,1310.6 640.0,1306.4 642.0,1306.4 644.0,1301.9 646.0,1301.5 648.0,1298.6 648.8,1299.9 650.0,1296.9 652.0,1292.6 654.0,1290.7 656.0,1286.7 658.0,1281.8 660.2,1277.1 662.0,1272.0 664.0,1272.3 666.0,1262.3 668.0,1256.3 670.0,1244.4 671.0,1240.3 672.0,1237.3 674.0,1227.8 675.5,1223.5 678.0,1212.1 679.5,1212.6 682.0,1214.0 683.0,1209.4 684.0,1212.1 686.0,1206.2 687.8,1207.2 690.0,1209.2 692.0,1215.2 694.0,1215.5 696.0,1223.3 698.5,1233.5 700.0,1235.5 702.0,1246.1 703.6,1250.7 706.0,1258.4 708.0,1266.0 710.0,1270.8 711.3,1276.3 712.0,1275.9 714.0,1279.3 716.0,1280.3 718.0,1283.0 720.0,1286.2 721.5,1284.7 724.0,1293.2 726.0,1292.2 728.0,1293.7 730.0,1296.3 731.7,1299.2 734.0,1301.0 736.0,1299.9 738.0,1302.1 740.0,1302.4 742.0,1302.0 744.0,1304.3 746.0,1304.8 748.0,1303.2 750.0,1307.0 752.2,1303.6 754.0,1305.9 756.0,1304.1 758.0,1304.2 760.0,1304.0 762.0,1305.5 764.0,1302.6 766.0,1303.6 768.0,1305.5 770.0,1302.1 772.0,1302.6 774.0,1303.2 776.0,1301.3 777.7,1302.5 780.0,1300.7 782.0,1302.4 784.0,1301.4 786.0,1299.9 788.0,1303.0 790.0,1300.8 792.0,1300.5 794.0,1299.5 796.0,1300.0 798.0,1300.3 800.0,1300.4 802.0,1301.4 803.8,1298.0 806.0,1298.7 808.0,1300.0 810.0,1297.6 812.0,1296.9 812.8,1298.1 814.0,1295.7 816.0,1294.7 818.0,1292.8 819.2,1294.6 820.0,1293.1 822.0,1289.6 824.0,1290.2 825.6,1286.6 828.0,1287.6 830.0,1284.2 830.7,1281.6 832.0,1275.4 832.6,1270.2 834.0,1268.8 835.2,1262.4 836.0,1257.0 837.1,1251.0 838.0,1244.5 839.7,1236.0 841.6,1210.2 844.2,1183.2 846.1,1158.6 848.0,1121.4 849.9,1095.5 851.8,1078.8 853.1,1058.0 854.0,1058.2 856.0,1060.0 858.2,1061.0 860.2,1084.3 861.4,1104.9 862.0,1120.8 863.4,1149.1 864.0,1154.9 865.3,1182.9 866.0,1200.2 867.2,1224.0 868.0,1235.3 869.1,1250.2 870.0,1257.9 871.7,1265.5 874.0,1272.1 875.5,1273.3 878.1,1281.2 880.0,1283.5 882.0,1290.2 883.2,1289.1 884.0,1292.2 886.0,1288.0 888.0,1289.9 890.0,1291.0 890.9,1290.4 892.0,1291.2 894.0,1290.0 896.0,1287.8 898.0,1283.9 898.6,1285.3 900.0,1286.9 902.4,1281.4 904.0,1281.5 906.0,1278.2 908.0,1278.1 908.8,1276.5 910.0,1273.7 911.4,1266.3 912.0,1265.5 914.0,1264.4 915.2,1258.5 916.0,1259.5 918.0,1252.4 920.0,1252.3 921.6,1246.3 924.0,1240.3 925.4,1237.0 926.0,1238.1 928.0,1231.7 930.0,1230.9 930.6,1229.8 932.0,1234.4 933.1,1235.4 934.0,1238.4 935.7,1244.5 938.2,1253.3 940.0,1254.7 942.1,1260.9 944.0,1267.8 945.9,1267.9 948.0,1275.8 950.0,1279.7 952.0,1278.4 953.6,1282.5 956.0,1284.0 958.0,1290.0 958.7,1290.2 960.0,1292.9 962.0,1293.6 964.0,1296.1 966.4,1300.2 968.0,1304.3 970.0,1311.3 971.8,1315.5 974.0,1315.8 976.0,1318.1 978.0,1319.8 980.0,1317.3 982.0,1321.0 984.0,1320.4 986.0,1320.4 988.0,1320.6 990.0,1321.5 992.0,1322.0 994.0,1323.6 994.8,1321.8 996.0,1324.7 998.0,1322.8 1000.0,1324.8 1002.0,1325.4 1004.0,1322.9 1006.0,1325.8 1008.0,1327.2 1010.0,1324.3 1012.0,1325.7 1014.0,1325.1 1016.0,1325.5 1018.0,1325.4 1020.4,1325.4 1022.0,1327.1 1024.0,1327.8 1026.0,1327.4 1028.0,1329.8 1030.0,1330.1 1032.0,1330.4 1034.0,1329.6 1036.0,1333.3 1038.0,1333.4 1040.0,1330.2 1042.0,1332.0 1044.0,1333.1 1045.9,1335.0 1048.0,1335.6 1050.0,1334.2 1052.0,1335.0 1054.0,1335.7 1056.0,1333.7 1058.0,1335.9 1060.0,1335.1 1062.0,1335.8 1064.0,1335.6 1066.0,1334.6 1068.0,1334.9 1070.0,1336.1 1072.0,1336.3 1074.0,1336.0 1076.0,1337.6 1078.0,1336.2 1080.0,1335.4 1082.0,1336.5 1084.0,1336.9 1086.0,1337.1 1086.9,1338.5 1088.0,1338.0 1090.0,1338.7 1092.0,1338.5 1094.0,1337.9 1096.0,1339.4 1098.0,1338.3 1100.0,1339.1 1102.0,1338.1 1104.0,1339.5 1106.0,1339.4 1108.0,1340.4 1110.0,1342.2 1112.0,1343.0 1114.0,1341.9 1116.0,1341.0 1118.0,1342.2 1120.0,1341.8 1122.0,1341.1 1124.0,1341.9 1126.0,1341.9 1128.0,1341.7 1130.0,1343.8 1132.0,1342.0 1133.9,1342.1 1136.0,1343.4 1138.0,1342.0 1140.0,1341.6 1142.0,1342.0 1144.0,1343.4 1146.0,1343.4 1148.0,1343.3 1150.0,1342.6 1152.0,1342.2 1154.0,1344.1 1156.0,1341.8 1158.0,1343.1 1160.0,1342.0 1162.0,1342.9 1164.0,1343.2 1166.0,1344.7 1168.0,1340.5 1170.0,1344.8 1172.0,1342.6 1174.0,1343.8 1176.0,1344.3 1178.0,1342.7 1180.0,1343.4 1180.8,1344.0 1182.0,1343.4 1184.0,1342.7 1186.0,1343.6 1188.0,1343.3 1190.0,1341.5 1192.0,1344.2 1194.0,1342.8 1196.0,1339.9 1198.0,1341.2 1200.0,1343.5 1202.0,1343.1 1204.0,1341.4 1206.0,1339.0 1208.0,1340.1 1210.0,1341.1 1212.0,1340.0 1214.0,1338.5 1216.0,1337.3 1218.0,1338.1 1220.0,1336.2 1222.0,1336.0 1224.0,1335.6 1226.0,1336.4 1227.7,1334.7 1230.0,1335.0 1232.0,1333.1 1234.0,1336.7 1236.0,1337.0 1238.0,1336.6 1240.0,1334.6 1242.0,1336.7 1243.4,1337.4 1246.0,1338.7 1248.0,1335.6 1250.0,1333.9 1252.0,1331.9 1254.0,1330.7 1255.9,1326.8 1258.0,1326.3 1260.0,1325.3 1262.0,1325.9 1264.0,1325.4 1266.0,1325.5 1268.0,1323.6 1270.0,1324.1 1271.5,1322.2 1274.0,1322.3 1276.0,1314.4 1278.0,1313.2 1280.0,1307.8 1280.9,1302.9 1282.0,1304.4 1284.0,1301.7 1286.0,1297.3 1287.2,1299.0 1288.0,1299.2 1290.0,1302.4 1292.0,1304.9 1293.0,1308.0 1294.0,1310.9 1296.0,1316.5 1298.0,1321.8 1299.7,1324.6 1302.0,1324.1 1304.0,1325.9 1306.0,1322.7 1308.0,1327.5 1310.0,1326.0 1312.2,1326.9 1314.0,1328.1 1316.0,1327.4 1318.0,1333.6 1320.0,1332.1 1322.0,1336.0 1324.0,1337.3 1324.7,1338.7 1326.0,1337.8 1328.0,1337.1 1330.0,1339.6 1332.0,1337.3 1334.0,1340.3 1336.0,1340.6 1338.0,1343.2 1340.0,1341.7 1342.0,1342.0 1344.0,1342.0 1346.0,1342.2 1348.0,1342.7 1350.0,1344.0 1352.0,1342.2 1352.9,1343.3 1354.0,1342.0 1356.0,1343.3 1358.0,1343.5 1360.0,1341.9 1362.0,1342.4 1364.0,1342.9 1366.0,1343.3 1368.0,1343.2 1370.0,1341.8 1372.0,1340.6 1374.0,1339.6 1376.0,1341.7 1378.0,1342.0 1380.0,1340.6 1382.0,1341.5 1384.0,1339.1 1386.0,1338.9 1388.0,1340.7 1390.0,1337.7 1392.0,1339.2 1394.0,1338.8 1396.0,1338.5 1398.0,1340.0 1399.8,1337.3 1402.0,1337.8 1404.0,1336.1 1406.0,1337.3 1408.0,1338.0 1410.0,1338.3 1412.0,1338.6 1414.0,1339.3 1416.0,1338.5 1418.0,1337.4 1420.0,1339.9 1422.0,1340.4 1424.0,1339.0 1426.0,1339.6 1428.0,1342.5 1430.0,1341.9 1432.0,1342.2 1434.0,1342.0 1436.0,1341.6 1438.0,1341.1 1440.0,1342.4 1442.0,1341.7 1444.0,1341.5 1446.0,1342.0 1446.8,1341.9 1448.0,1342.9 1450.0,1341.0 1452.0,1344.4 1454.0,1340.8 1456.0,1341.2 1458.0,1342.5 1460.0,1340.5 1462.0,1340.7 1464.0,1341.1 1466.0,1337.8 1468.0,1340.1 1470.0,1339.4 1472.0,1340.0 1474.0,1340.5 1476.0,1340.5 1478.0,1341.2 1480.0,1341.0 1482.0,1340.4 1484.0,1339.1 1486.0,1340.1 1488.0,1337.9 1490.0,1338.8 1492.0,1340.3 1493.7,1339.6 1496.0,1337.4 1498.0,1338.3 1500.0,1340.0 1502.0,1339.9 1504.0,1340.6 1506.0,1337.9 1508.0,1338.7 1510.0,1340.1 1512.0,1339.7 1514.0,1341.0 1516.0,1341.5 1518.0,1342.3 1520.0,1342.2 1522.0,1343.4 1524.0,1344.1 1525.0,1343.7"/>
<polyline fill="none" stroke="#FF0000" stroke-width="6.3" stroke-linejoin="round" stroke-linecap="round" points="150.0,1649.2 152.0,1648.7 154.0,1649.7 156.0,1650.4 158.0,1651.1 160.0,1650.1 162.0,1649.4 164.0,1649.1 166.0,1650.6 168.0,1651.5 170.0,1650.1 172.0,1648.6 174.0,1648.8 176.0,1651.3 178.0,1649.9 180.0,1647.9 182.0,1649.5 184.0,1648.4 186.0,1648.9 188.0,1649.0 190.0,1648.7 192.0,1649.9 194.0,1649.2 196.0,1648.6 198.0,1649.5 200.0,1649.9 202.0,1647.4 204.0,1648.7 206.0,1647.9 208.0,1648.6 210.0,1647.4 212.0,1648.7 214.0,1648.5 216.0,1648.2 218.0,1647.3 220.2,1647.9 222.0,1647.1 224.0,1646.7 226.0,1648.2 228.0,1646.7 230.0,1648.8 232.0,1648.2 234.0,1645.2 236.0,1647.3 238.0,1645.7 240.0,1646.6 242.0,1646.4 244.0,1644.1 246.0,1645.6 248.0,1645.4 250.0,1646.4 252.0,1644.0 254.0,1645.7 255.4,1643.7 258.0,1644.2 260.0,1643.4 262.0,1645.5 264.0,1644.3 266.0,1645.9 268.0,1643.8 270.0,1643.7 272.0,1643.4 274.0,1641.5 276.0,1641.8 278.0,1642.9 280.0,1640.8 282.0,1641.1 284.0,1640.6 286.0,1641.0 288.0,1639.6 290.0,1639.6 292.0,1639.8 294.0,1639.4 296.0,1638.2 298.0,1639.9 300.0,1637.4 302.0,1637.4 304.0,1637.2 306.0,1639.6 308.0,1638.1 310.0,1637.5 312.0,1637.4 314.0,1639.1 316.0,1637.6 318.0,1637.6 320.0,1639.8 322.0,1638.0 324.0,1639.1 326.0,1639.7 328.0,1639.5 330.0,1640.1 332.0,1641.9 334.0,1640.2 336.0,1639.6 338.0,1639.3 340.0,1641.2 342.0,1641.3 344.0,1642.2 346.0,1641.7 348.0,1641.8 350.0,1641.8 352.0,1642.1 354.0,1643.0 356.0,1642.5 358.0,1643.1 360.0,1645.0 360.7,1643.5 362.0,1641.4 364.0,1644.8 366.0,1643.3 368.0,1641.9 370.0,1643.8 372.0,1642.8 374.0,1642.0 376.0,1641.9 378.0,1641.5 380.0,1642.4 382.0,1643.4 384.0,1641.8 386.0,1642.4 388.0,1643.8 390.0,1640.4 392.0,1641.8 394.0,1641.0 396.0,1640.0 398.0,1639.9 400.0,1640.8 402.0,1641.0 404.0,1639.8 406.0,1640.3 408.0,1640.8 410.0,1640.1 412.0,1640.5 414.0,1639.9 416.0,1639.7 418.0,1641.0 420.0,1639.5 422.0,1638.8 424.0,1639.2 426.0,1637.3 428.0,1637.7 430.0,1638.7 431.0,1638.5 432.0,1639.4 434.0,1637.6 436.0,1635.8 438.0,1639.3 440.0,1638.3 442.0,1635.8 444.0,1638.3 446.0,1636.7 448.0,1634.5 450.0,1635.9 452.0,1635.6 454.0,1637.7 456.0,1635.0 458.0,1635.4 460.0,1635.2 462.0,1634.9 464.0,1634.1 466.0,1635.1 468.0,1635.8 470.0,1635.1 472.0,1633.2 474.0,1632.7 476.0,1633.8 478.0,1632.6 480.0,1632.4 482.0,1630.9 483.7,1634.7 486.0,1633.0 488.0,1630.3 490.0,1631.7 492.0,1631.4 494.0,1626.1 496.0,1627.1 496.9,1626.8 498.0,1627.4 500.0,1625.6 502.0,1624.4 504.0,1623.3 505.5,1624.2 508.0,1619.3 510.0,1609.8 510.7,1607.1 512.0,1607.8 514.0,1596.4 515.9,1590.2 518.0,1582.5 519.3,1577.9 520.0,1576.0 522.5,1566.6 524.0,1561.6 526.2,1561.3 528.0,1561.5 529.5,1564.9 532.0,1563.7 533.1,1563.0 534.0,1565.8 536.0,1578.7 536.6,1578.2 538.0,1580.3 540.0,1588.5 542.0,1597.9 543.4,1604.7 544.0,1603.4 546.0,1610.0 548.0,1613.5 548.6,1612.5 550.0,1615.0 552.0,1619.7 554.0,1621.5 555.5,1621.3 558.0,1621.7 560.0,1623.4 562.0,1622.5 564.0,1623.0 566.0,1622.4 567.6,1623.5 570.0,1623.3 572.0,1626.4 574.0,1622.6 576.0,1623.8 578.0,1623.4 580.0,1621.2 582.0,1622.3 584.0,1617.9 584.8,1620.4 586.0,1621.1 588.0,1616.8 590.0,1617.9 592.0,1620.2 594.0,1618.3 596.0,1616.9 598.0,1617.4 600.0,1616.8 602.0,1618.0 604.0,1617.2 606.0,1615.9 608.0,1615.0 610.0,1615.3 610.7,1616.8 612.0,1615.3 614.0,1615.2 616.0,1613.8 618.0,1611.9 620.0,1612.1 622.0,1613.2 624.0,1611.8 626.0,1609.8 627.9,1608.0 630.0,1608.5 632.0,1605.6 634.0,1602.9 636.0,1600.1 638.3,1598.3 640.0,1596.8 642.0,1596.2 644.0,1594.8 646.0,1593.8 648.0,1591.1 648.6,1588.8 650.0,1587.2 652.0,1584.0 654.0,1578.4 655.5,1576.3 658.0,1572.4 660.0,1565.5 662.4,1557.3 664.0,1553.9 665.9,1539.3 668.0,1524.1 669.3,1511.0 670.0,1512.3 672.0,1499.6 674.5,1487.4 676.0,1483.0 678.0,1480.0 679.7,1473.5 681.4,1450.8 682.0,1442.5 683.1,1438.4 684.0,1433.1 686.0,1429.7 686.6,1429.2 688.0,1423.4 690.0,1428.3 691.7,1427.0 694.0,1434.7 695.2,1441.1 696.0,1441.8 698.0,1452.1 698.6,1451.7 700.0,1461.9 702.1,1480.7 704.0,1493.8 705.5,1502.8 708.0,1514.2 709.0,1517.7 710.0,1526.8 712.0,1531.9 714.1,1543.0 716.0,1544.8 718.0,1547.1 719.3,1551.0 720.0,1557.8 721.0,1566.5 722.0,1568.2 724.5,1575.2 726.0,1579.6 728.0,1579.6 730.0,1581.0 731.4,1582.6 732.0,1582.6 734.0,1585.0 736.0,1586.0 738.0,1586.2 740.0,1590.0 742.0,1587.7 744.0,1591.9 746.0,1598.7 748.0,1599.0 748.6,1598.6 750.0,1599.0 752.0,1601.3 754.0,1600.1 756.0,1599.8 757.2,1598.1 758.0,1599.6 760.0,1598.7 762.0,1598.5 764.0,1598.3 766.0,1599.0 768.0,1598.3 770.0,1599.6 772.0,1596.4 774.0,1597.6 776.0,1600.0 777.7,1597.4 780.0,1598.6 782.0,1598.3 784.0,1598.3 786.0,1597.3 788.0,1594.2 790.0,1595.5 792.0,1595.1 794.0,1593.2 796.0,1594.4 798.0,1593.1 800.0,1592.3 802.0,1594.5 803.5,1593.9 806.0,1592.7 808.0,1592.0 810.0,1592.2 811.6,1592.1 814.0,1591.6 816.0,1591.7 818.0,1590.7 820.0,1591.2 820.9,1591.0 822.0,1590.1 824.0,1586.8 826.0,1584.4 826.7,1585.1 828.0,1582.7 830.0,1580.4 831.3,1575.1 832.0,1573.8 834.0,1575.1 834.8,1573.4 836.0,1570.9 838.3,1558.9 840.0,1550.3 841.2,1543.9 842.0,1537.5 844.1,1528.0 845.8,1502.2 848.1,1475.4 849.9,1445.8 851.6,1420.4 854.5,1400.8 856.0,1388.3 856.8,1387.0 858.0,1387.3 859.1,1392.4 860.0,1402.9 861.5,1415.7 863.8,1453.6 866.1,1487.6 867.8,1522.0 869.6,1545.2 871.9,1563.3 874.0,1570.6 875.4,1575.2 876.0,1573.5 878.0,1580.3 878.8,1581.2 880.0,1584.9 882.0,1586.1 883.5,1590.7 886.0,1588.0 888.0,1586.4 890.0,1591.0 892.0,1589.8 892.8,1589.2 894.0,1587.9 896.2,1581.7 898.0,1578.7 900.0,1576.6 900.9,1575.4 902.0,1573.5 904.0,1568.9 905.5,1566.4 908.0,1566.3 910.0,1568.0 911.3,1568.2 912.0,1564.8 914.0,1559.5 916.0,1555.2 918.0,1546.1 920.0,1536.4 920.6,1530.1 922.0,1524.1 922.9,1519.8 924.0,1518.3 925.2,1511.9 926.0,1512.3 927.5,1501.5 930.0,1499.5 932.2,1495.8 934.0,1498.1 936.0,1501.0 938.0,1496.5 939.1,1500.6 940.0,1504.0 941.5,1507.9 944.0,1513.2 946.0,1512.7 947.3,1517.1 948.0,1517.5 950.0,1524.7 950.7,1529.9 952.0,1530.7 954.0,1535.0 955.4,1533.8 956.0,1536.4 958.0,1545.5 958.9,1548.8 960.0,1551.8 962.3,1562.5 964.0,1564.2 966.0,1570.6 967.0,1571.2 968.0,1576.7 970.5,1583.8 972.0,1587.1 974.0,1592.3 976.0,1598.2 978.0,1597.2 979.5,1599.1 982.0,1602.8 984.0,1602.0 986.0,1605.7 988.0,1604.6 990.0,1605.1 992.0,1606.1 994.0,1608.4 996.0,1607.6 998.0,1607.9 1000.0,1608.1 1002.0,1606.4 1004.0,1607.8 1006.0,1611.4 1007.6,1611.1 1010.0,1611.6 1012.0,1612.6 1014.0,1612.0 1016.0,1613.9 1018.0,1613.3 1020.0,1615.8 1022.0,1615.3 1024.0,1616.8 1026.0,1618.4 1028.0,1618.2 1030.0,1620.1 1032.0,1620.5 1034.0,1621.0 1036.0,1622.5 1038.0,1619.7 1040.0,1619.8 1042.0,1622.5 1044.0,1623.0 1046.0,1624.3 1048.0,1623.0 1050.0,1623.2 1052.0,1621.3 1054.0,1623.3 1056.0,1623.3 1058.0,1621.4 1060.0,1621.6 1062.0,1622.6 1064.0,1623.1 1066.0,1619.5 1068.0,1622.9 1070.0,1623.2 1072.0,1622.8 1074.0,1623.4 1076.0,1623.7 1078.0,1622.1 1080.0,1623.8 1082.0,1623.2 1084.0,1622.5 1086.0,1624.0 1086.9,1625.5 1088.0,1622.3 1090.0,1622.3 1092.0,1622.7 1094.0,1627.1 1096.0,1625.1 1098.0,1625.8 1100.0,1625.5 1102.0,1625.9 1104.0,1625.3 1106.0,1628.3 1108.0,1629.0 1110.0,1627.1 1112.0,1628.6 1114.0,1629.4 1116.0,1630.6 1118.2,1631.3 1120.0,1632.5 1122.0,1633.0 1124.0,1633.0 1126.0,1633.6 1128.0,1631.3 1130.0,1632.3 1132.0,1634.4 1134.0,1633.8 1136.0,1633.8 1138.0,1632.0 1140.0,1632.4 1142.0,1635.4 1144.0,1635.2 1146.0,1634.8 1148.0,1634.9 1150.0,1633.7 1152.0,1636.1 1154.0,1636.9 1156.0,1637.7 1158.0,1636.2 1160.0,1636.0 1162.0,1635.1 1164.0,1637.5 1165.2,1638.0 1166.0,1635.7 1168.0,1636.6 1170.0,1636.4 1172.0,1635.7 1174.0,1633.7 1176.0,1635.8 1178.0,1636.8 1180.0,1634.7 1182.0,1635.3 1184.0,1632.7 1186.0,1637.3 1188.0,1636.5 1190.0,1636.0 1192.0,1635.6 1194.0,1635.1 1196.4,1635.6 1198.0,1635.3 1200.0,1635.0 1202.0,1634.8 1204.0,1634.5 1206.0,1635.3 1208.0,1631.5 1210.0,1632.5 1212.0,1630.8 1214.0,1629.5 1216.0,1627.5 1218.0,1629.9 1220.0,1627.6 1222.0,1627.4 1224.0,1628.3 1226.0,1626.4 1227.7,1627.5 1230.0,1627.9 1232.0,1629.7 1234.0,1631.1 1236.0,1630.3 1238.0,1633.1 1240.3,1632.5 1242.0,1632.3 1244.0,1630.6 1246.0,1629.7 1248.0,1625.5 1250.0,1625.2 1252.0,1624.8 1252.8,1622.9 1254.0,1625.1 1256.0,1621.7 1258.0,1622.4 1260.0,1621.4 1262.0,1621.1 1264.0,1620.3 1266.0,1620.7 1268.0,1620.9 1270.0,1619.6 1271.5,1621.1 1274.0,1618.8 1276.0,1610.7 1278.0,1608.7 1280.0,1604.2 1280.9,1603.3 1282.0,1605.3 1284.0,1602.5 1286.0,1600.6 1287.2,1600.2 1288.0,1597.3 1290.0,1601.3 1292.0,1599.9 1293.4,1601.5 1296.0,1607.2 1298.0,1614.8 1299.7,1619.2 1302.0,1619.2 1304.0,1620.2 1306.0,1619.0 1308.0,1620.2 1310.0,1620.9 1312.0,1618.9 1314.0,1623.4 1315.3,1620.8 1316.0,1620.5 1318.0,1625.1 1320.0,1627.4 1322.0,1626.2 1324.0,1628.1 1326.0,1633.5 1327.9,1631.1 1330.0,1629.5 1332.0,1631.4 1334.0,1634.5 1336.0,1633.5 1338.0,1634.0 1340.0,1634.9 1342.0,1634.7 1344.0,1634.0 1346.0,1633.0 1348.0,1635.4 1350.0,1634.0 1352.0,1635.3 1354.0,1637.4 1356.0,1636.3 1358.0,1636.0 1360.0,1636.1 1362.0,1636.9 1364.0,1637.2 1366.0,1635.0 1368.5,1636.5 1370.0,1638.0 1372.0,1636.9 1374.0,1635.1 1376.0,1634.9 1378.0,1633.1 1380.0,1633.9 1382.0,1635.8 1384.0,1633.6 1386.0,1632.3 1388.0,1632.1 1390.0,1632.1 1392.0,1631.7 1394.0,1631.1 1396.0,1630.4 1398.0,1631.7 1399.8,1632.6 1402.0,1630.4 1404.0,1630.5 1406.0,1632.4 1408.0,1629.7 1410.0,1630.8 1412.0,1631.1 1414.0,1631.9 1416.0,1631.6 1418.0,1631.1 1420.0,1632.5 1422.0,1631.2 1424.0,1630.8 1426.0,1630.7 1428.0,1633.8 1430.0,1631.4 1432.0,1633.8 1434.0,1634.2 1436.0,1634.5 1438.0,1633.6 1440.0,1633.4 1442.0,1634.1 1444.0,1633.5 1446.0,1632.8 1446.8,1635.4 1448.0,1633.2 1450.0,1635.9 1452.0,1634.6 1454.0,1633.6 1456.0,1634.5 1458.0,1635.3 1460.0,1632.7 1462.0,1633.2 1464.0,1633.0 1466.0,1634.3 1468.0,1634.5 1470.0,1634.1 1472.0,1633.4 1474.0,1633.6 1476.0,1635.3 1478.0,1635.2 1480.0,1634.2 1482.0,1632.8 1484.0,1634.7 1486.0,1634.4 1488.0,1634.4 1490.0,1635.8 1492.0,1634.9 1494.0,1633.1 1496.0,1633.1 1498.0,1635.5 1500.0,1634.3 1502.0,1635.0 1504.0,1634.0 1506.0,1633.1 1508.0,1634.4 1510.0,1635.7 1512.0,1634.5 1514.0,1633.0 1516.0,1633.9 1518.0,1633.7 1520.0,1634.3 1522.0,1635.2 1524.0,1636.2 1525.0,1634.4"/>
<polyline fill="none" stroke="#000000" stroke-width="6.3" stroke-linejoin="round" stroke-linecap="round" points="150.0,1836.0 152.0,1836.9 154.0,1832.8 156.0,1835.4 158.0,1836.8 160.0,1837.3 162.0,1836.8 164.0,1837.8 166.0,1836.8 168.0,1837.2 170.0,1837.0 172.0,1835.9 174.0,1836.2 176.0,1837.6 178.0,1836.7 180.0,1838.7 182.0,1838.8 184.0,1839.4 186.0,1837.7 188.0,1839.1 190.0,1836.9 192.0,1837.1 194.0,1838.0 196.0,1838.2 198.0,1836.4 200.0,1836.3 202.0,1838.4 202.7,1837.1 204.0,1839.2 206.0,1838.4 208.0,1838.2 210.0,1838.1 212.0,1838.7 214.0,1837.6 216.0,1838.7 218.0,1837.0 220.0,1837.2 222.0,1836.6 224.0,1837.8 226.0,1837.1 228.0,1836.0 230.0,1838.7 232.0,1836.2 234.0,1836.3 236.0,1836.7 238.0,1837.9 240.0,1835.8 242.0,1836.5 244.0,1835.8 246.0,1834.0 248.0,1836.2 250.0,1836.2 252.0,1834.9 254.0,1835.0 255.4,1833.4 258.0,1833.2 260.0,1834.3 262.0,1835.2 264.0,1834.0 266.0,1834.6 268.0,1835.2 270.0,1834.2 272.0,1834.6 274.0,1835.4 276.0,1832.6 278.0,1834.5 280.0,1831.7 282.0,1834.0 284.0,1833.6 286.0,1832.8 288.0,1832.1 290.0,1833.1 292.0,1832.6 294.0,1833.0 296.0,1831.9 298.0,1833.3 300.0,1831.6 302.0,1832.2 304.0,1832.1 306.0,1833.6 308.0,1830.7 310.0,1831.7 312.0,1833.3 314.0,1831.3 316.0,1830.6 318.0,1832.1 320.0,1831.4 322.0,1832.4 324.0,1830.5 325.6,1831.6 328.0,1832.0 330.0,1832.2 332.0,1830.0 334.0,1832.5 336.0,1830.0 338.0,1829.3 340.0,1829.8 342.0,1830.8 344.0,1830.2 346.0,1830.9 348.0,1830.9 350.0,1830.6 352.0,1830.0 354.0,1832.0 356.0,1827.8 358.0,1828.2 360.0,1829.3 362.0,1828.5 364.0,1827.0 366.0,1828.8 368.0,1828.7 370.0,1826.9 372.0,1830.2 374.0,1830.6 376.0,1830.4 378.0,1828.5 380.0,1829.0 382.0,1827.6 384.0,1828.9 386.0,1827.8 388.0,1828.9 390.0,1827.9 392.0,1829.3 394.0,1828.9 395.9,1829.2 398.0,1826.1 400.0,1825.7 402.0,1827.9 404.0,1826.7 406.0,1827.6 408.0,1827.3 410.0,1827.0 412.0,1827.7 414.0,1827.1 416.0,1826.8 418.0,1825.2 420.0,1827.8 422.0,1825.9 424.0,1826.8 426.0,1825.7 428.0,1826.5 430.0,1825.1 432.0,1825.0 434.0,1824.6 436.0,1823.5 438.0,1823.4 440.0,1823.6 442.0,1823.3 444.0,1822.1 446.0,1825.4 448.0,1821.5 450.0,1821.9 452.0,1824.6 454.0,1820.8 456.0,1822.0 458.0,1821.5 460.0,1820.2 462.0,1818.4 464.0,1817.8 466.1,1819.1 468.0,1819.1 470.0,1815.6 472.0,1817.5 474.0,1815.7 476.0,1816.5 478.0,1814.7 480.0,1812.4 482.0,1811.7 484.0,1810.9 486.0,1811.1 487.2,1812.2 488.0,1808.4 490.0,1806.3 492.0,1804.7 494.0,1801.4 496.0,1799.4 498.0,1796.3 500.0,1792.9 501.2,1790.1 502.0,1790.1 504.0,1787.6 506.0,1782.7 508.0,1781.0 510.0,1777.0 511.8,1773.5 514.0,1774.2 516.0,1768.4 518.0,1770.5 520.0,1770.9 520.6,1767.8 522.0,1768.2 524.0,1770.7 526.0,1772.9 528.0,1773.2 529.3,1774.0 530.0,1775.6 532.0,1776.9 534.0,1777.6 536.0,1781.7 538.0,1784.4 539.9,1784.0 542.0,1787.7 544.0,1787.3 546.0,1790.2 548.0,1787.9 550.4,1789.0 552.0,1788.2 554.0,1791.6 556.0,1791.2 558.0,1791.0 560.0,1790.4 562.0,1789.0 564.0,1788.2 566.0,1784.0 568.0,1785.9 570.0,1784.0 571.5,1783.7 574.0,1781.3 576.0,1783.6 578.0,1780.7 580.0,1777.1 582.0,1778.6 584.0,1776.6 586.0,1774.4 588.0,1775.0 589.0,1775.2 590.0,1772.1 592.0,1773.4 594.0,1776.5 596.0,1776.7 598.0,1777.1 600.0,1775.5 602.0,1776.7 604.0,1777.9 606.0,1778.9 606.6,1776.8 608.0,1776.5 610.0,1779.5 612.0,1777.9 614.0,1777.0 616.0,1776.2 618.0,1776.0 620.0,1778.7 622.0,1777.4 624.0,1775.0 626.0,1773.2 628.0,1776.7 630.0,1775.8 632.0,1774.5 634.0,1773.2 634.7,1769.0 636.0,1768.9 638.0,1769.0 640.0,1764.4 642.0,1761.5 644.0,1756.9 645.3,1754.9 646.0,1755.9 648.0,1752.5 650.0,1751.5 652.0,1750.2 654.0,1748.1 656.0,1746.8 658.0,1742.6 660.0,1731.7 662.0,1726.9 662.8,1723.9 664.0,1723.1 666.0,1714.9 668.0,1713.3 670.0,1707.7 672.0,1703.0 672.8,1701.5 674.0,1701.2 676.0,1700.2 678.0,1703.9 680.0,1706.3 682.0,1703.7 684.0,1707.0 685.1,1709.5 686.0,1710.6 688.0,1721.3 690.0,1727.0 691.5,1732.6 694.0,1736.1 696.0,1744.5 698.0,1746.1 700.0,1750.3 702.0,1752.0 704.3,1751.3 706.0,1753.8 708.0,1756.1 710.0,1760.6 712.0,1760.8 714.0,1763.7 716.0,1764.8 718.0,1765.9 720.0,1767.8 722.0,1767.3 723.4,1764.9 724.0,1766.4 726.0,1770.0 728.0,1766.3 730.0,1770.0 732.0,1770.6 734.0,1767.6 736.0,1769.1 738.0,1766.7 740.0,1769.9 742.0,1767.7 744.0,1767.0 745.8,1768.3 748.0,1768.2 750.0,1767.8 752.0,1768.6 754.0,1767.6 756.0,1766.4 758.0,1768.2 760.0,1769.7 762.0,1765.7 764.0,1764.0 766.0,1763.0 768.0,1764.8 770.0,1763.1 772.0,1763.1 774.0,1759.8 776.0,1760.9 777.7,1760.8 780.0,1763.9 782.0,1762.2 784.0,1759.0 786.0,1763.5 788.0,1764.6 790.0,1764.9 792.0,1759.1 794.0,1763.6 796.0,1764.7 798.0,1764.5 800.0,1763.4 802.0,1761.2 804.0,1763.3 806.0,1763.6 808.0,1764.9 809.6,1765.0 812.0,1761.5 814.0,1759.5 815.4,1754.4 816.0,1754.2 818.0,1753.1 820.0,1752.0 822.0,1748.3 823.0,1749.2 824.0,1746.2 826.0,1739.4 828.4,1734.4 830.0,1727.9 832.0,1720.5 833.8,1712.2 836.0,1704.2 837.0,1699.0 838.0,1691.9 840.0,1692.3 842.0,1688.7 844.0,1684.5 844.8,1685.0 846.0,1689.9 848.0,1690.5 849.0,1693.8 850.0,1703.1 852.3,1726.1 854.0,1733.1 856.0,1738.8 856.7,1742.9 858.0,1748.3 860.0,1751.5 862.3,1754.0 864.0,1756.2 866.0,1754.4 868.0,1754.7 870.0,1752.1 872.0,1750.5 873.5,1749.6 876.0,1748.2 878.0,1745.3 880.5,1743.3 882.0,1746.4 884.0,1746.9 886.0,1741.9 888.0,1735.5 890.0,1736.2 892.0,1736.4 894.0,1730.4 895.7,1731.3 898.0,1730.4 900.0,1728.7 902.0,1728.1 904.0,1730.4 906.0,1727.4 908.0,1727.3 910.0,1730.1 912.0,1725.7 913.0,1723.9 914.0,1728.2 916.0,1730.7 918.0,1728.3 920.0,1729.2 921.0,1727.0 922.0,1728.2 924.0,1734.7 925.0,1736.1 926.0,1738.5 928.5,1748.1 930.0,1750.5 932.0,1754.0 934.0,1756.5 936.0,1761.8 937.0,1761.4 938.0,1763.7 940.0,1769.6 942.0,1773.6 943.5,1775.1 946.0,1778.4 948.0,1779.6 950.0,1778.5 952.0,1782.7 953.3,1783.4 954.0,1784.2 956.0,1787.3 958.0,1788.6 960.0,1793.5 962.0,1794.1 964.0,1796.8 966.0,1799.0 968.0,1799.9 969.3,1801.6 970.0,1802.0 972.0,1802.7 974.0,1801.7 976.0,1802.2 978.0,1803.1 980.0,1804.4 982.0,1802.6 984.0,1804.3 986.0,1804.3 988.0,1805.3 990.0,1805.4 992.0,1807.8 994.0,1807.8 996.0,1808.8 998.0,1806.9 1000.0,1807.6 1001.2,1808.4 1002.0,1810.9 1004.0,1811.4 1006.0,1809.3 1008.0,1811.2 1010.0,1813.5 1012.0,1810.4 1014.0,1811.9 1016.0,1814.1 1018.0,1814.0 1020.0,1812.5 1022.0,1815.9 1024.0,1815.8 1026.0,1816.0 1028.0,1814.3 1030.0,1816.0 1032.0,1818.2 1034.0,1817.7 1036.0,1818.5 1038.0,1817.7 1040.0,1820.1 1042.0,1818.6 1044.0,1820.2 1046.0,1819.9 1048.0,1818.8 1049.1,1821.6 1050.0,1818.7 1052.0,1819.6 1054.0,1820.8 1056.0,1819.4 1058.0,1819.2 1060.0,1821.2 1062.0,1821.1 1064.0,1821.5 1066.0,1822.5 1068.0,1824.6 1070.0,1821.9 1072.0,1825.2 1074.0,1823.0 1076.0,1822.8 1078.0,1820.2 1080.0,1821.6 1082.0,1823.7 1084.0,1824.2 1086.0,1822.9 1088.0,1824.2 1090.0,1825.1 1092.0,1823.7 1094.0,1822.8 1096.0,1823.6 1097.0,1824.4 1098.0,1825.2 1100.0,1825.9 1102.0,1824.3 1104.0,1825.6 1106.0,1825.5 1108.0,1826.1 1110.0,1827.5 1112.0,1827.9 1114.0,1826.4 1116.0,1826.5 1118.0,1826.7 1120.0,1827.1 1122.0,1827.5 1124.0,1828.0 1126.0,1827.8 1128.0,1827.5 1130.0,1827.6 1132.0,1829.0 1134.0,1831.6 1136.0,1829.8 1138.0,1830.0 1140.0,1829.8 1142.0,1829.4 1144.0,1831.6 1144.9,1829.2 1146.0,1828.6 1148.0,1828.3 1150.0,1829.8 1152.0,1828.5 1154.0,1828.7 1156.0,1828.7 1158.0,1828.2 1160.0,1829.7 1162.0,1827.8 1164.0,1831.8 1166.0,1826.7 1168.0,1828.1 1170.0,1829.5 1172.0,1829.9 1174.0,1829.1 1176.0,1829.7 1178.0,1829.6 1180.0,1829.5 1182.4,1830.0 1184.0,1829.6 1186.0,1829.2 1188.0,1829.1 1190.0,1830.0 1192.0,1828.8 1194.0,1829.5 1196.0,1830.4 1198.0,1829.0 1200.0,1829.7 1202.0,1827.8 1204.0,1828.4 1206.0,1828.4 1208.0,1828.0 1210.0,1828.1 1212.0,1828.8 1214.0,1826.9 1216.0,1826.4 1218.0,1827.3 1220.0,1825.4 1222.0,1826.7 1223.6,1827.9 1226.0,1826.6 1228.0,1827.2 1230.0,1826.9 1232.0,1827.8 1234.0,1827.0 1236.0,1826.7 1238.0,1823.0 1240.0,1825.9 1242.0,1827.1 1244.0,1826.2 1246.0,1825.5 1248.0,1827.1 1250.0,1825.2 1251.0,1825.7 1252.0,1826.6 1254.0,1824.5 1256.0,1823.9 1258.0,1822.1 1260.0,1819.2 1262.0,1818.7 1264.0,1818.0 1264.7,1817.6 1266.0,1819.5 1268.0,1818.1 1270.0,1817.4 1272.0,1816.5 1274.0,1817.6 1275.7,1819.4 1278.0,1817.8 1280.0,1819.3 1282.0,1819.6 1284.0,1819.2 1286.0,1819.5 1288.0,1821.8 1290.0,1820.1 1292.2,1823.1 1294.0,1821.7 1296.0,1824.3 1298.0,1823.5 1300.0,1824.3 1302.0,1825.9 1304.0,1824.2 1306.0,1825.7 1308.0,1825.8 1310.0,1827.0 1312.0,1827.6 1314.0,1827.5 1316.0,1827.7 1318.0,1827.3 1319.7,1828.6 1322.0,1828.0 1324.0,1828.5 1326.0,1828.8 1328.0,1827.4 1330.0,1827.9 1332.0,1829.4 1334.0,1829.4 1336.0,1830.8 1338.0,1827.3 1340.0,1830.1 1342.0,1831.1 1344.0,1830.3 1346.0,1831.1 1348.0,1830.4 1350.0,1830.5 1352.0,1831.5 1354.0,1829.4 1356.0,1828.5 1358.0,1831.2 1360.0,1830.9 1360.8,1830.9 1362.0,1831.0 1364.0,1831.3 1366.0,1830.2 1368.0,1831.0 1370.0,1830.7 1372.0,1829.1 1374.0,1829.9 1376.0,1830.2 1378.0,1828.9 1380.0,1830.6 1382.0,1829.0 1384.0,1829.9 1386.0,1830.4 1388.0,1827.2 1390.0,1827.2 1392.0,1829.0 1394.0,1828.1 1396.0,1828.7 1398.0,1829.8 1400.0,1827.5 1402.0,1828.9 1404.0,1827.7 1406.0,1827.4 1408.0,1828.5 1410.0,1828.3 1412.0,1829.2 1414.0,1828.5 1416.0,1829.1 1418.0,1828.8 1420.0,1826.6 1422.0,1828.1 1424.0,1828.2 1426.0,1829.5 1428.0,1827.6 1430.0,1828.9 1432.0,1828.4 1434.0,1827.0 1436.0,1828.8 1438.0,1829.7 1440.0,1828.7 1442.0,1830.1 1444.0,1829.6 1446.0,1829.6 1448.0,1828.8 1450.0,1829.2 1452.0,1829.8 1454.0,1829.4 1456.0,1828.2 1457.0,1829.2 1458.0,1829.8 1460.0,1830.5 1462.0,1830.2 1464.0,1828.4 1466.0,1830.1 1468.0,1827.8 1470.0,1828.8 1472.0,1828.6 1474.0,1830.9 1476.0,1830.1 1478.0,1829.7 1480.0,1828.8 1482.0,1830.6 1484.0,1829.2 1486.0,1829.9 1488.0,1830.5 1490.0,1829.1 1492.0,1829.9 1494.0,1827.4 1496.0,1830.0 1498.0,1827.7 1500.0,1829.8 1502.0,1829.7 1504.0,1829.9 1506.0,1831.7 1508.0,1826.9 1510.0,1829.9 1512.0,1829.0 1514.0,1830.2 1516.0,1829.7 1518.0,1829.5 1520.0,1828.9 1522.0,1828.7 1524.0,1829.8 1525.0,1827.9"/>
<rect x="149.5" y="15" width="1377.5" height="1839" fill="none" stroke="#000" stroke-width="4.4"/>
<path d="M149.50 1854V1877 M235.59 1854V1865.5 M321.69 1854V1877 M407.78 1854V1865.5 M493.88 1854V1877 M579.97 1854V1865.5 M666.06 1854V1877 M752.16 1854V1865.5 M838.25 1854V1877 M924.34 1854V1865.5 M1010.44 1854V1877 M1096.53 1854V1865.5 M1182.62 1854V1877 M1268.72 1854V1865.5 M1354.81 1854V1877 M1440.91 1854V1865.5 M1527.00 1854V1877" stroke="#000" stroke-width="4.4" fill="none"/>
<text transform="translate(149.50,1939.80) scale(1,1.04)" font-size="58" fill="#000" text-anchor="middle">5</text>
<text transform="translate(321.69,1939.80) scale(1,1.04)" font-size="58" fill="#000" text-anchor="middle">10</text>
<text transform="translate(493.88,1939.80) scale(1,1.04)" font-size="58" fill="#000" text-anchor="middle">15</text>
<text transform="translate(666.06,1939.80) scale(1,1.04)" font-size="58" fill="#000" text-anchor="middle">20</text>
<text transform="translate(838.25,1939.80) scale(1,1.04)" font-size="58" fill="#000" text-anchor="middle">25</text>
<text transform="translate(1010.44,1939.80) scale(1,1.04)" font-size="58" fill="#000" text-anchor="middle">30</text>
<text transform="translate(1182.62,1939.80) scale(1,1.04)" font-size="58" fill="#000" text-anchor="middle">35</text>
<text transform="translate(1354.81,1939.80) scale(1,1.04)" font-size="58" fill="#000" text-anchor="middle">40</text>
<text transform="translate(1527.00,1939.80) scale(1,1.04)" font-size="58" fill="#000" text-anchor="middle">45</text>
<text transform="translate(837.80,2046.80) scale(1,1.04)" font-size="64" fill="#000" text-anchor="middle">2 theta (degree)</text>
<text transform="translate(59.9,1243.5) rotate(-90) scale(1,1.04)" font-size="64" fill="#000">Intensity (counts)</text>
<text transform="translate(171.40,173.80) scale(1,1.04)" font-size="64" fill="#000080" text-anchor="start">nTiO<tspan font-size="38.4" dy="22.12">2</tspan></text>
<text transform="translate(169.80,517.90) scale(1,1.04)" font-size="64" fill="#008000" text-anchor="start">PEF/TiO<tspan font-size="38.4" dy="22.12">2</tspan><tspan dy="-22.12"> 20%</tspan></text>
<text transform="translate(162.60,880.80) scale(1,1.04)" font-size="64" fill="#FF00FF" text-anchor="start">PEF/TiO<tspan font-size="38.4" dy="22.12">2</tspan><tspan dy="-22.12"> 15%</tspan></text>
<text transform="translate(162.60,1223.70) scale(1,1.04)" font-size="64" fill="#0000FF" text-anchor="start">PEF/TiO<tspan font-size="38.4" dy="22.12">2</tspan><tspan dy="-22.12"> 10%</tspan></text>
<text transform="translate(160.60,1496.80) scale(1,1.04)" font-size="64" fill="#FF0000" text-anchor="start">PEF/TiO<tspan font-size="38.4" dy="22.12">2</tspan><tspan dy="-22.12"> 5%</tspan></text>
<text transform="translate(162.60,1761.70) scale(1,1.04)" font-size="64" fill="#000000" text-anchor="start">PEF</text>
<text transform="translate(868.90,88.70) scale(1,1.04)" font-size="64" fill="#000" text-anchor="start">25.1</text>
<text transform="translate(1010.10,57.20) scale(1.04,0.95)" font-size="38.4" fill="#000">o</text>
<text transform="translate(395.20,1743.90) scale(1,1.04)" font-size="64" fill="#000" text-anchor="start">15.8</text>
<text transform="translate(535.20,1712.60) scale(1.04,0.95)" font-size="38.4" fill="#000">o</text>
<text transform="translate(600.80,1689.80) scale(1,1.04)" font-size="64" fill="#000" text-anchor="start">20.2</text>
<text transform="translate(742.40,1658.70) scale(1.04,0.95)" font-size="38.4" fill="#000">o</text>
<text transform="translate(838.90,1668.70) scale(1,1.04)" font-size="64" fill="#000" text-anchor="start">25.2</text>
<text transform="translate(980.10,1637.20) scale(1.04,0.95)" font-size="38.4" fill="#000">o</text>
<text transform="translate(952.70,1743.60) scale(1,1.04)" font-size="64" fill="#000" text-anchor="start">27.2</text>
<text transform="translate(1094.30,1712.60) scale(1.04,0.95)" font-size="38.4" fill="#000">o</text>
</svg>
</body></html>
